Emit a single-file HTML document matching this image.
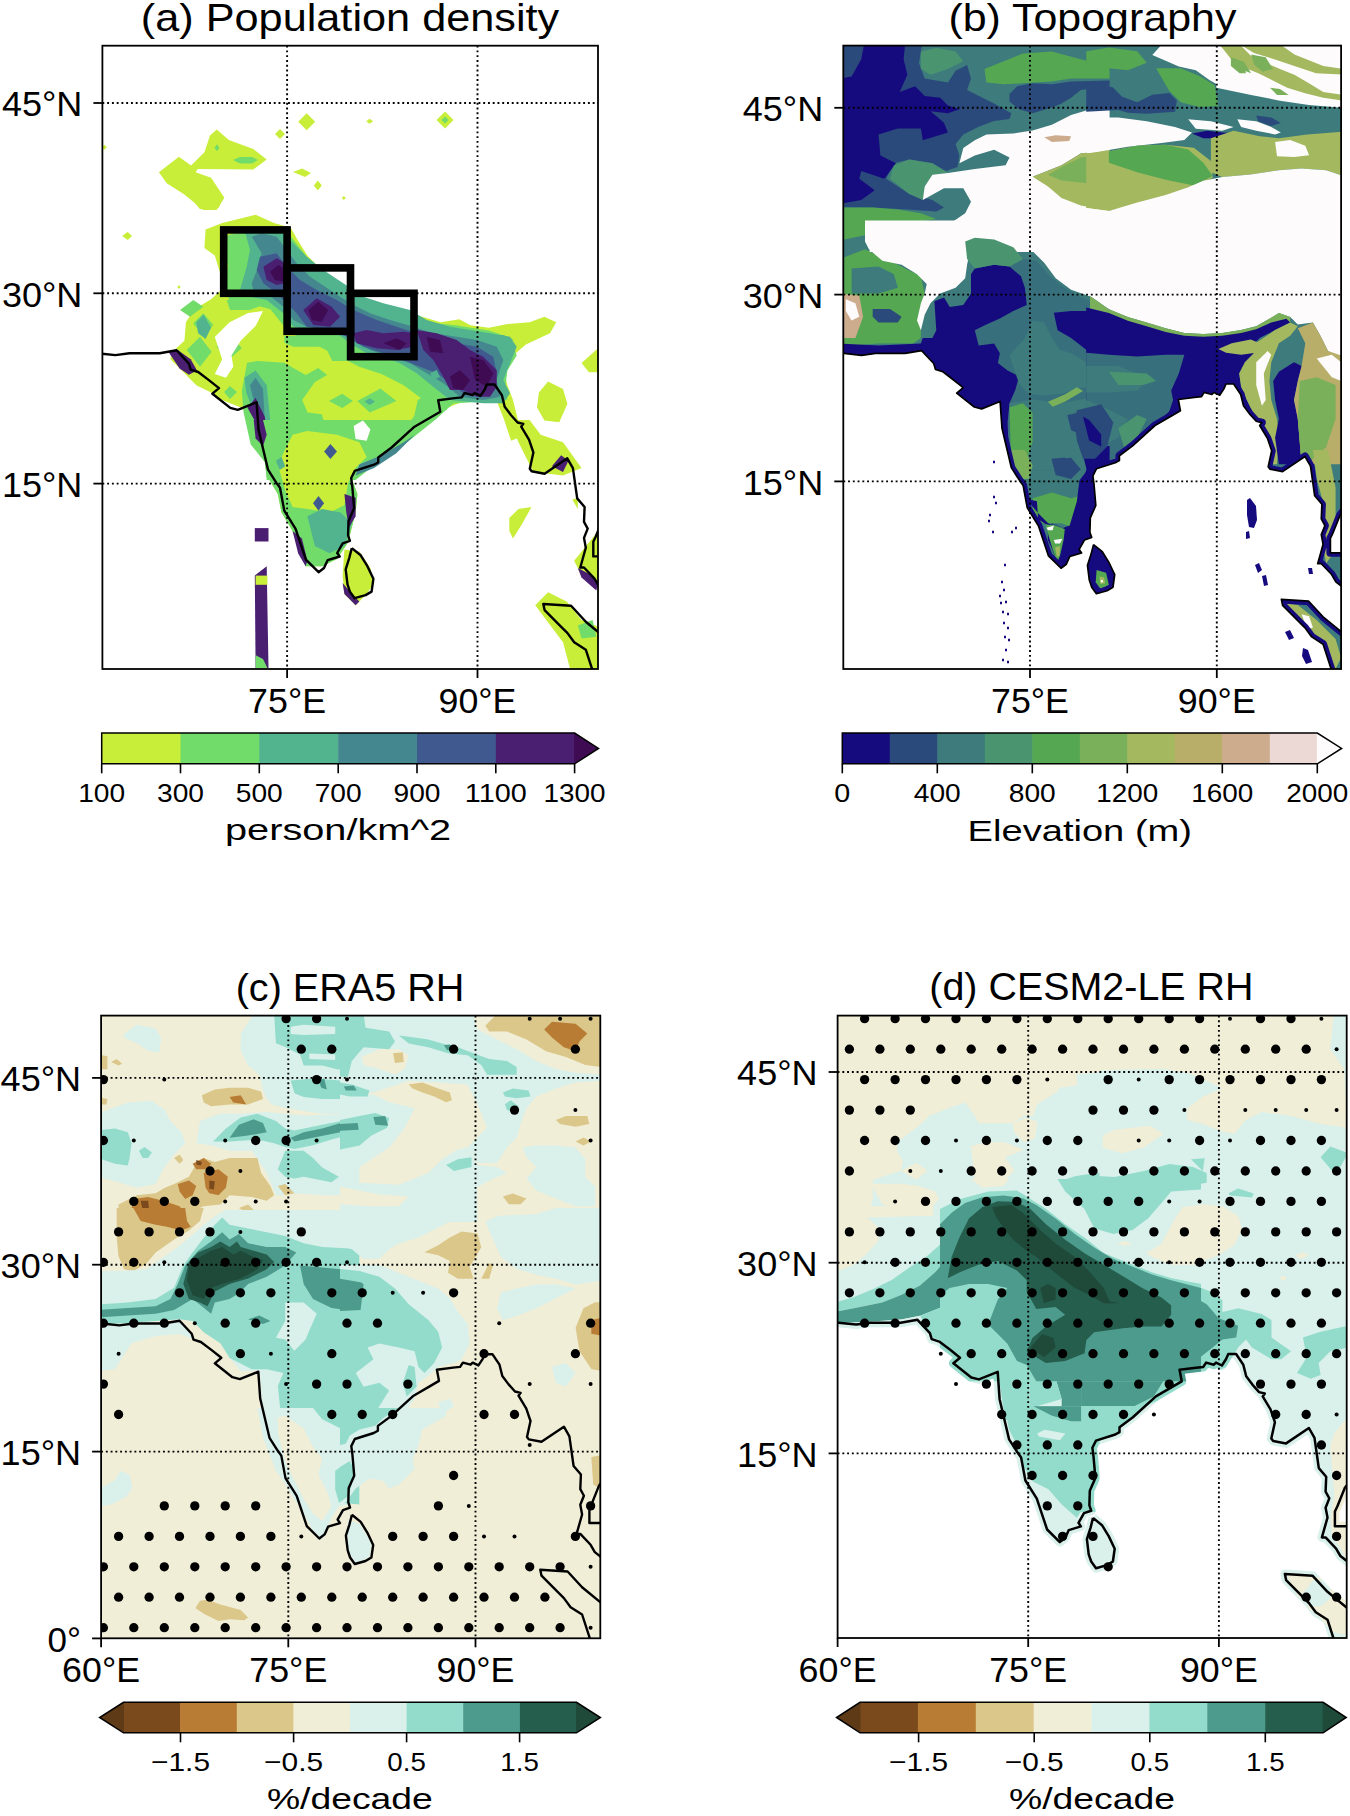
<!DOCTYPE html><html><head><meta charset="utf-8"><style>html,body{margin:0;padding:0;background:#fff;}svg{display:block}</style></head><body>
<svg width="1350" height="1816" viewBox="0 0 1350 1816">
<rect width="1350" height="1816" fill="#fff"/>
<defs>
<clipPath id="clipa"><rect x="102.4" y="45.7" width="495.6" height="623.3"/></clipPath>
<clipPath id="clipb"><rect x="843.3" y="45.6" width="497.79999999999995" height="623.4"/></clipPath>
<clipPath id="clipc"><rect x="101.1" y="1015.6" width="499.19999999999993" height="622.6999999999999"/></clipPath>
<clipPath id="clipd"><rect x="837.6" y="1015.6" width="509.1" height="622.4"/></clipPath>
<clipPath id="landa"><path d="M90.5 353.1 L97.6 353.2 L115.4 355.1 L129.5 353.2 L159.7 353.2 L176.6 350.3 L188.9 363.6 L190.7 369.6 L198.2 372 L209.5 380.6 L219 388.1 L212.4 393.7 L230.3 407.9 L237.8 409.8 L256.6 402.3 L258.5 429.6 L263.7 451.5 L268 469.6 L276.4 482.9 L280 487.8 L284.3 510.7 L295.6 528.8 L305.9 559.6 L318.6 572.2 L324 568 L327.6 560.2 L339.7 556.5 L337.2 553 L342.7 543.3 L349.9 540.8 L348.1 535.4 L348.5 520.9 L354.1 508.2 L352.3 486.5 L351.2 478.1 L354.7 470.9 L374 464.7 L378.2 462.4 L378.2 457.5 L391.6 447.5 L414.5 426.7 L431.7 416.8 L440.3 411.7 L438.2 400.3 L454.6 398.1 L461.8 397.4 L464.6 393 L472.5 395.2 L474.6 393 L480.4 395.9 L484.7 389.5 L486.8 384.5 L494.6 384.5 L501.9 395.2 L504.7 406.7 L511.1 415.2 L517.6 422.5 L523.3 423.9 L521.2 426.7 L529 439.7 L533.4 452.5 L529.8 468.8 L531.6 471.3 L544.6 473.7 L567.3 458.3 L572.9 468.2 L577.2 498.4 L584.6 507 L584 521.9 L587.7 528.6 L584 537.9 L585.8 547.8 L580.3 567.5 L584 567.5 L594.5 578.6 L598.8 586.1 L609.1 594.1 L609.1 556.4 L593.3 556.4 L593.3 541.7 L595.7 536.7 L603.1 518.1 L609.1 510.6 L617 -23.9 L84.1 -23.9 Z M351.8 548.1 L360.7 555.3 L367.4 566.2 L373.4 578.8 L371.6 591.6 L365.6 595.1 L354.7 598.2 L349.9 591.6 L347.5 584.3 L345.7 569.3 L349.3 557.8 L351.8 548.1 Z M595.9 680.7 L585.8 649.7 L574.2 642.2 L567.3 632.9 L561.2 626.8 L544.6 610.1 L543.3 604 L571.1 605.8 L585.8 621.8 L609.1 641 L617 699.4 L540.9 699.4 Z"/></clipPath>
<clipPath id="landb"><path d="M837.2 353.3 L844.1 353.4 L861.6 355.3 L875.4 353.4 L905.1 353.4 L921.6 350.6 L933.7 363.5 L935.5 369.4 L942.9 371.8 L953.9 380.2 L963.2 387.6 L956.7 393.1 L974.3 407 L981.7 408.9 L1000.1 401.5 L1002 428.3 L1007.1 449.8 L1011.3 467.6 L1019.6 480.6 L1023.1 485.4 L1027.3 507.9 L1038.4 525.7 L1048.5 555.9 L1061 568.2 L1066.3 564.2 L1069.8 556.5 L1081.6 552.9 L1079.2 549.4 L1084.6 539.9 L1091.7 537.5 L1089.9 532.2 L1090.3 517.9 L1095.8 505.5 L1094 484.2 L1092.9 475.9 L1096.4 468.8 L1115.3 462.8 L1119.4 460.5 L1119.4 455.7 L1132.6 445.9 L1155 425.5 L1171.9 415.7 L1180.4 410.7 L1178.3 399.5 L1194.4 397.4 L1201.4 396.7 L1204.2 392.4 L1211.9 394.5 L1214 392.4 L1219.7 395.2 L1223.9 388.9 L1226 384 L1233.7 384 L1240.7 394.5 L1243.5 405.8 L1249.8 414.2 L1256.2 421.3 L1261.8 422.7 L1259.7 425.5 L1267.4 438.2 L1271.7 450.8 L1268.2 466.8 L1270 469.2 L1282.6 471.6 L1305 456.5 L1310.5 466.2 L1314.7 495.8 L1321.9 504.3 L1321.3 518.9 L1324.9 525.5 L1321.3 534.6 L1323.1 544.3 L1317.7 563.7 L1321.3 563.7 L1331.6 574.5 L1335.8 581.8 L1346 589.7 L1346 552.8 L1330.4 552.8 L1330.4 538.3 L1332.8 533.4 L1340.1 515.2 L1346 507.8 L1353.8 -16.6 L830.8 -16.6 Z M1093.5 544.6 L1102.3 551.7 L1108.9 562.4 L1114.7 574.7 L1113 587.2 L1107.1 590.7 L1096.4 593.7 L1091.7 587.2 L1089.3 580.1 L1087.5 565.3 L1091.1 554.1 L1093.5 544.6 Z M1333 674.7 L1323.1 644.2 L1311.7 636.9 L1305 627.8 L1299 621.8 L1282.6 605.4 L1281.4 599.4 L1308.7 601.2 L1323.1 616.9 L1346 635.7 L1353.8 693 L1279 693 Z"/></clipPath>
<clipPath id="landd"><path d="M831.4 1322.6 L838.4 1322.7 L856.2 1324.6 L870.4 1322.7 L900.6 1322.7 L917.5 1319.8 L929.9 1333.1 L931.7 1339.1 L939.2 1341.6 L950.5 1350.1 L960 1357.7 L953.4 1363.3 L971.3 1377.5 L978.9 1379.4 L997.7 1371.9 L999.6 1399.2 L1004.8 1421.2 L1009.1 1439.4 L1017.6 1452.6 L1021.1 1457.5 L1025.4 1480.5 L1036.8 1498.6 L1047.1 1529.5 L1059.8 1542.1 L1065.2 1537.9 L1068.8 1530.1 L1080.9 1526.4 L1078.5 1522.8 L1084 1513.1 L1091.2 1510.7 L1089.4 1505.3 L1089.8 1490.7 L1095.4 1478 L1093.5 1456.3 L1092.4 1447.8 L1096 1440.6 L1115.3 1434.5 L1119.5 1432.1 L1119.5 1427.2 L1132.9 1417.2 L1155.9 1396.4 L1173.1 1386.4 L1181.7 1381.3 L1179.6 1369.8 L1196 1367.7 L1203.2 1367 L1206.1 1362.6 L1213.9 1364.7 L1216 1362.6 L1221.9 1365.5 L1226.1 1359 L1228.3 1354 L1236.1 1354 L1243.3 1364.7 L1246.2 1376.3 L1252.6 1384.8 L1259.1 1392.1 L1264.8 1393.5 L1262.7 1396.4 L1270.5 1409.3 L1274.9 1422.2 L1271.3 1438.5 L1273.2 1441 L1286.1 1443.4 L1308.9 1428 L1314.5 1437.9 L1318.8 1468.1 L1326.2 1476.8 L1325.6 1491.7 L1329.3 1498.4 L1325.6 1507.7 L1327.5 1517.6 L1321.9 1537.4 L1325.6 1537.4 L1336.1 1548.6 L1340.4 1556 L1350.8 1564.1 L1350.8 1526.3 L1334.9 1526.3 L1334.9 1511.5 L1337.3 1506.5 L1344.8 1487.9 L1350.8 1480.4 L1358.7 944.9 L824.9 944.9 Z M1093 1517.9 L1102 1525.2 L1108.7 1536.1 L1114.7 1548.8 L1112.9 1561.5 L1106.9 1565.1 L1096 1568.2 L1091.2 1561.5 L1088.7 1554.3 L1086.9 1539.2 L1090.6 1527.6 L1093 1517.9 Z M1337.5 1650.8 L1327.5 1619.7 L1315.8 1612.2 L1308.9 1603 L1302.8 1596.8 L1286.1 1580.1 L1284.9 1574 L1312.7 1575.8 L1327.5 1591.8 L1350.8 1611 L1358.7 1669.5 L1282.5 1669.5 Z"/></clipPath>
<mask id="maskd"><path d="M831.4 1322.6 L838.4 1322.7 L856.2 1324.6 L870.4 1322.7 L900.6 1322.7 L917.5 1319.8 L929.9 1333.1 L931.7 1339.1 L939.2 1341.6 L950.5 1350.1 L960 1357.7 L953.4 1363.3 L971.3 1377.5 L978.9 1379.4 L997.7 1371.9 L999.6 1399.2 L1004.8 1421.2 L1009.1 1439.4 L1017.6 1452.6 L1021.1 1457.5 L1025.4 1480.5 L1036.8 1498.6 L1047.1 1529.5 L1059.8 1542.1 L1065.2 1537.9 L1068.8 1530.1 L1080.9 1526.4 L1078.5 1522.8 L1084 1513.1 L1091.2 1510.7 L1089.4 1505.3 L1089.8 1490.7 L1095.4 1478 L1093.5 1456.3 L1092.4 1447.8 L1096 1440.6 L1115.3 1434.5 L1119.5 1432.1 L1119.5 1427.2 L1132.9 1417.2 L1155.9 1396.4 L1173.1 1386.4 L1181.7 1381.3 L1179.6 1369.8 L1196 1367.7 L1203.2 1367 L1206.1 1362.6 L1213.9 1364.7 L1216 1362.6 L1221.9 1365.5 L1226.1 1359 L1228.3 1354 L1236.1 1354 L1243.3 1364.7 L1246.2 1376.3 L1252.6 1384.8 L1259.1 1392.1 L1264.8 1393.5 L1262.7 1396.4 L1270.5 1409.3 L1274.9 1422.2 L1271.3 1438.5 L1273.2 1441 L1286.1 1443.4 L1308.9 1428 L1314.5 1437.9 L1318.8 1468.1 L1326.2 1476.8 L1325.6 1491.7 L1329.3 1498.4 L1325.6 1507.7 L1327.5 1517.6 L1321.9 1537.4 L1325.6 1537.4 L1336.1 1548.6 L1340.4 1556 L1350.8 1564.1 L1350.8 1526.3 L1334.9 1526.3 L1334.9 1511.5 L1337.3 1506.5 L1344.8 1487.9 L1350.8 1480.4 L1358.7 944.9 L824.9 944.9 Z M1093 1517.9 L1102 1525.2 L1108.7 1536.1 L1114.7 1548.8 L1112.9 1561.5 L1106.9 1565.1 L1096 1568.2 L1091.2 1561.5 L1088.7 1554.3 L1086.9 1539.2 L1090.6 1527.6 L1093 1517.9 Z M1337.5 1650.8 L1327.5 1619.7 L1315.8 1612.2 L1308.9 1603 L1302.8 1596.8 L1286.1 1580.1 L1284.9 1574 L1312.7 1575.8 L1327.5 1591.8 L1350.8 1611 L1358.7 1669.5 L1282.5 1669.5 Z" fill="#fff"/><path d="M831.4 1322.6 L838.4 1322.7 L856.2 1324.6 L870.4 1322.7 L900.6 1322.7 L917.5 1319.8 L929.9 1333.1 L931.7 1339.1 L939.2 1341.6 L950.5 1350.1 L960 1357.7 L953.4 1363.3 L971.3 1377.5 L978.9 1379.4 L997.7 1371.9 L999.6 1399.2 L1004.8 1421.2 L1009.1 1439.4 L1017.6 1452.6 L1021.1 1457.5 L1025.4 1480.5 L1036.8 1498.6 L1047.1 1529.5 L1059.8 1542.1 L1065.2 1537.9 L1068.8 1530.1 L1080.9 1526.4 L1078.5 1522.8 L1084 1513.1 L1091.2 1510.7 L1089.4 1505.3 L1089.8 1490.7 L1095.4 1478 L1093.5 1456.3 L1092.4 1447.8 L1096 1440.6 L1115.3 1434.5 L1119.5 1432.1 L1119.5 1427.2 L1132.9 1417.2 L1155.9 1396.4 L1173.1 1386.4 L1181.7 1381.3 L1179.6 1369.8 L1196 1367.7 L1203.2 1367 L1206.1 1362.6 L1213.9 1364.7 L1216 1362.6 L1221.9 1365.5 L1226.1 1359 L1228.3 1354 L1236.1 1354 L1243.3 1364.7 L1246.2 1376.3 L1252.6 1384.8 L1259.1 1392.1 L1264.8 1393.5 L1262.7 1396.4 L1270.5 1409.3 L1274.9 1422.2 L1271.3 1438.5 L1273.2 1441 L1286.1 1443.4 L1308.9 1428 L1314.5 1437.9 L1318.8 1468.1 L1326.2 1476.8 L1325.6 1491.7 L1329.3 1498.4 L1325.6 1507.7 L1327.5 1517.6 L1321.9 1537.4 L1325.6 1537.4 L1336.1 1548.6 L1340.4 1556 L1350.8 1564.1 M1350.8 1480.4 L1344.8 1487.9 L1337.3 1506.5 L1334.9 1511.5 L1334.9 1526.3 L1350.8 1526.3 M1093 1517.9 L1102 1525.2 L1108.7 1536.1 L1114.7 1548.8 L1112.9 1561.5 L1106.9 1565.1 L1096 1568.2 L1091.2 1561.5 L1088.7 1554.3 L1086.9 1539.2 L1090.6 1527.6 L1093 1517.9 M1337.5 1650.8 L1327.5 1619.7 L1315.8 1612.2 L1308.9 1603 L1302.8 1596.8 L1286.1 1580.1 L1284.9 1574 L1312.7 1575.8 L1327.5 1591.8 L1350.8 1611" fill="none" stroke="#fff" stroke-width="9" stroke-linejoin="round"/></mask>
</defs>
<g clip-path="url(#clipa)">
<path d="M205.6 229.6 L222.2 223 L255.6 214.8 L274.1 223 L290.7 227.8 L298.1 240.7 L307.4 255.6 L322.2 270.4 L340.7 285.2 L359.3 295.6 L381.5 305.6 L403.7 313 L422.2 316.7 L440.7 322.2 L459.3 319.3 L470.4 325.2 L488.9 327.8 L507.4 324.1 L529.6 322.2 L544.4 316.7 L556.3 322.2 L550 333.3 L525.9 344.4 L513 355.6 L503.7 370.4 L507.4 385.2 L513 400 L518.5 422.2 L520.4 437 L511.1 440.7 L503.7 418.5 L496.3 400 L485.2 396.3 L466.7 400 L448.1 407.4 L433.3 418.5 L414.8 427.4 L396.3 442.2 L381.5 457 L359.3 468.1 L351.9 479.3 L357.4 494.1 L355.6 512.6 L348.1 542.2 L337 558.9 L322.2 566.3 L305.6 566.3 L300 549.6 L292.6 531.1 L281.5 512.6 L277.8 494.1 L266.7 475.6 L263 445.9 L254.8 434.8 L253.7 420 L240.7 407.4 L222.2 400 L211.1 392.6 L196.3 385.2 L185.2 374.1 L170.4 359.3 L172.2 351.9 L184.4 340.7 L185.9 322.2 L194.4 309.3 L211.1 299.3 L222.2 288.9 L220.4 274.1 L214.8 255.6 L204.4 248.1 Z" fill="#c8ee3a"/>
<path d="M344.4 549.6 L359.3 551.5 L370.4 568.1 L374.1 583 L366.7 594.1 L355.6 605.2 L344.4 594.1 L342.6 575.6 Z" fill="#c8ee3a"/>
<path d="M158.9 172.2 L178.9 156.7 L191.1 165.6 L204.4 152.2 L210 135.6 L216.7 129.6 L228.9 140 L253.3 148.9 L266.7 159.6 L253.3 169.6 L197.8 168.9 L195.6 172.2 L211.1 177.8 L224.4 197.8 L216.7 210 L203.3 210 L184.4 194.4 L166.7 183.3 Z" fill="#c8ee3a"/>
<path d="M214.5 147.8 L217 144.3 L219.5 147.8 L217 151.3 Z" fill="#72dc6a"/>
<path d="M233 160 L240 157 L252 157 L258 160 L252 163.5 L240 163.5 Z" fill="#72dc6a"/>
<path d="M275 134 L280 129 L285 134 L280 139 Z" fill="#c8ee3a"/>
<path d="M298.2 121.8 L306.7 113.3 L315.2 121.8 L306.7 130.3 Z" fill="#c8ee3a"/>
<path d="M436.5 120 L445 111.5 L453.5 120 L445 128.5 Z" fill="#c8ee3a"/>
<path d="M441.5 120 L445 116.5 L448.5 120 L445 123.5 Z" fill="#72dc6a"/>
<path d="M366.1 121.3 L369.6 118.8 L373.1 121.3 L369.6 123.8 Z" fill="#c8ee3a"/>
<path d="M293 172 L302 168.5 L311 173 L305 177 Z" fill="#c8ee3a"/>
<path d="M313.8 185.6 L317.8 180.6 L321.8 185.6 L317.8 190.6 Z" fill="#c8ee3a"/>
<path d="M341.8 198 L343.8 196 L345.8 198 L343.8 200 Z" fill="#c8ee3a"/>
<path d="M123.8 236 L127.8 232 L131.8 236 L127.8 240 Z" fill="#c8ee3a"/>
<path d="M177.1 287 L178.9 285.2 L180.7 287 L178.9 288.8 Z" fill="#c8ee3a"/>
<path d="M101.9 147.3 L104.4 144.8 L106.9 147.3 L104.4 149.8 Z" fill="#c8ee3a"/>
<path d="M192.6 200 L222.2 200 L218.5 208.1 L200 209.3 Z" fill="#c8ee3a"/>
<path d="M122.2 235.9 L127 232.2 L131.9 235.9 L127 239.6 Z" fill="#c8ee3a"/>
<path d="M538.9 392.6 L548.1 381.5 L563 388.9 L567.4 403.7 L559.3 422.2 L544.4 420.4 L537 407.4 Z" fill="#c8ee3a"/>
<path d="M581.5 363 L598.1 348.1 L600 372.2 L588.9 372.2 Z" fill="#c8ee3a"/>
<path d="M509.3 420 L529.6 420 L540.7 434.8 L563 442.2 L581.5 468.1 L563 475.6 L533.3 471.9 L518.5 442.2 Z" fill="#c8ee3a"/>
<path d="M509.3 518.1 L518.5 508.9 L531.5 507 L522.2 523.7 L513 538.5 L509.3 531.1 Z" fill="#c8ee3a"/>
<path d="M572.2 499.6 L577.8 497.8 L577.8 508.9 Z" fill="#c8ee3a"/>
<path d="M574.1 560.7 L598.1 531.1 L600 590.4 L581.5 575.6 Z" fill="#c8ee3a"/>
<path d="M535.2 605.2 L548.1 592.2 L566.7 601.5 L581.5 620 L600 627.4 L600 670 L570.4 670 L563 642.2 Z" fill="#c8ee3a"/>
<path d="M577.8 625.6 L592.6 620 L596.3 636.7 L581.5 638.5 Z" fill="#72dc6a"/>
<path d="M551.9 466.3 L561.1 455.2 L568.5 460.7 L563 471.9 Z" fill="#4a1f72"/>
<path d="M577.8 568.1 L588.9 573.7 L598.1 583 L596.3 590.4 L581.5 577.4 Z" fill="#4a1f72"/>
<path d="M227.8 235.2 L255.6 227.8 L285.2 229.6 L300 248.1 L314.8 266.7 L337 283.3 L359.3 297 L385.2 308.1 L411.1 315.6 L433.3 323 L455.6 325.2 L488.9 330.4 L511.1 337.8 L516.7 355.6 L507.4 370.4 L505.6 385.2 L507.4 400 L492.6 392.6 L470.4 396.3 L451.9 401.9 L433.3 407.4 L418.5 396.3 L403.7 385.2 L381.5 374.1 L359.3 366.7 L337 355.6 L318.5 346.3 L300 338.9 L285.2 327.8 L270.4 309.3 L248.1 303 L229.6 300 L224.1 288.9 L227.8 266.7 L224.1 244.4 Z" fill="#72dc6a"/>
<path d="M247.1 362.7 L257.8 360.9 L284.4 362.7 L293.3 368 L305.8 375.1 L318.2 368 L327.1 375.1 L314.7 382.2 L302.2 400 L307.6 412.4 L321.8 414.2 L325.3 426.7 L339.6 433.8 L350.2 444.4 L353.8 456.9 L346.7 469.3 L328.9 462.2 L318.2 462.2 L311.1 451.6 L298.7 440.9 L289.8 435.6 L288 444.4 L293.3 455.1 L298.7 469.3 L293.3 480 L266.7 480 L264.9 462.2 L250.7 444.4 L243.6 412.4 L241.8 391.1 Z" fill="#72dc6a"/>
<path d="M417.8 400 L426.7 394.7 L439.1 394.7 L480 391.1 L480 401.8 L453.3 403.6 L435.6 419.6 L417.8 433.8 L400 448 L382.2 458.7 L364.4 472.9 L355.6 480 L350.2 480 L353.8 462.2 L368 455.1 L387.6 444.4 L403.6 430.2 L414.2 416 Z" fill="#72dc6a"/>
<path d="M284.4 336 L346.7 336 L346.7 360.9 L332.4 360.9 L325.3 346.7 L293.3 346.7 L284.4 343.1 Z" fill="#72dc6a"/>
<path d="M328.9 400.9 L342.2 393.8 L352.9 400.9 L342.2 408 Z" fill="#72dc6a"/>
<path d="M357.3 400.9 L380.4 388.4 L396.4 400.9 L369.8 412.4 Z" fill="#72dc6a"/>
<path d="M364.4 401.4 L369.8 398.2 L375.1 401.4 L369.8 405 Z" fill="#52b38f"/>
<path d="M321.8 451.6 L330.7 442.7 L341.3 451.6 L330.7 461.3 Z" fill="#52b38f"/>
<path d="M327.1 451.6 L330.7 448 L334.2 451.6 L330.7 455.1 Z" fill="#405a90"/>
<path d="M193.3 323.3 L203.3 313.3 L213.3 325 L203.3 336.7 Z" fill="#72dc6a"/>
<path d="M186.7 350 L200 336.7 L211.7 351.7 L200 366.7 Z" fill="#72dc6a"/>
<path d="M180 310 L193.3 300 L203.3 306.7 L190 316.7 Z" fill="#72dc6a"/>
<path d="M216.7 346.7 L230 333.3 L241.7 348.3 L228.3 360 Z" fill="#72dc6a"/>
<path d="M226.7 300 L250 296.7 L266.7 303.3 L250 310 L230 310 Z" fill="#72dc6a"/>
<path d="M224 392 L230 386 L237 392 L230 399 Z" fill="#72dc6a"/>
<path d="M224 343 L232 333 L238 340 L232 350 Z" fill="#72dc6a"/>
<path d="M196.3 322.2 L203.7 314.8 L211.1 327.8 L205.6 338.9 L198.1 333.3 Z" fill="#52b38f"/>
<path d="M244.4 377.8 L255.6 370.4 L266.7 385.2 L270.4 422.2 L263 420 L251.9 407.4 L246.3 392.6 Z" fill="#52b38f"/>
<path d="M250 385.2 L255.6 377.8 L263 388.9 L264.8 420 L255.6 407.4 Z" fill="#45878f"/>
<path d="M168.5 351.9 L177.8 350 L190.7 359.3 L197 370.4 L188.9 374.8 L179.6 368.5 Z" fill="#4a1f72"/>
<path d="M247.4 407.4 L255.6 398.1 L264.8 416.7 L267.4 437 L263 422.2 L255.6 422.2 Z" fill="#4a1f72"/>
<path d="M255.6 420 L422.2 420 L396.3 442.2 L381.5 457 L359.3 468.1 L351.9 479.3 L357.4 494.1 L355.6 512.6 L348.1 542.2 L337 558.9 L322.2 566.3 L305.6 566.3 L300 549.6 L292.6 531.1 L281.5 512.6 L277.8 494.1 L266.7 475.6 L263 445.9 Z" fill="#72dc6a"/>
<path d="M292.6 434.8 L307.4 431.1 L337 434.8 L359.3 442.2 L366.7 457 L355.6 468.1 L348.1 483 L344.4 505.2 L329.6 512.6 L307.4 508.9 L292.6 507 L285.2 490.4 L277.8 464.4 Z" fill="#c8ee3a"/>
<path d="M307.4 516.3 L322.2 508.9 L340.7 512.6 L351.9 523.7 L344.4 545.9 L329.6 553.3 L314.8 545.9 Z" fill="#52b38f"/>
<path d="M313 503.3 L318.5 495.9 L324.1 503.3 L318.5 510.7 Z" fill="#405a90"/>
<path d="M324.1 451.5 L330.4 444.1 L337 451.5 L330.4 458.9 Z" fill="#405a90"/>
<path d="M275.9 460.7 L281.5 457 L285.2 466.3 L279.6 470 Z" fill="#52b38f"/>
<path d="M253.7 420 L263 420 L266.7 434.8 L263 445.9 L255.6 438.5 Z" fill="#4a1f72"/>
<path d="M292.6 531.1 L301.9 538.5 L307.4 560.7 L305.6 566.3 L298.1 553.3 Z" fill="#4a1f72"/>
<path d="M344.4 494.1 L355.6 497.8 L355.6 516.3 L348.9 527.4 L346.3 512.6 Z" fill="#4a1f72"/>
<path d="M342.6 583 L351.9 594.1 L359.3 601.5 L355.6 605.2 L344.4 594.1 Z" fill="#4a1f72"/>
<path d="M359.3 464.4 L381.5 455.2 L403.7 442.2 L414.8 434.8 L396.3 453.3 L374.1 468.1 L355.6 475.6 Z" fill="#45878f"/>
<path d="M254.8 528.1 L268.5 528.1 L268.5 541.5 L254.8 541.5 Z" fill="#4a1f72"/>
<path d="M254.8 575.6 L266.7 566.3 L268.5 668.1 L255.6 668.1 Z" fill="#4a1f72"/>
<path d="M255.6 575.6 L267.4 575.6 L267.4 584.8 L255.6 584.8 Z" fill="#c8ee3a"/>
<path d="M255.6 655.2 L263 658.9 L267.4 668.1 L255.6 668.1 Z" fill="#72dc6a"/>
<path d="M245 231.7 L256.7 228.3 L276.7 228.3 L290 240 L306.7 256.7 L323.3 270 L343.3 283.3 L363.3 296.7 L383.3 303.3 L410 310 L426.7 320 L450 326.7 L470 330 L490 333.3 L510 336.7 L516.7 346.7 L510 363.3 L503.3 380 L510 393.3 L503.3 403.3 L483.3 403.3 L450 400 L433.3 386.7 L416.7 373.3 L400 363.3 L383.3 356.7 L366.7 353.3 L350 343.3 L336.7 333.3 L310 330 L293.3 326.7 L283.3 313.3 L266.7 300 L250 296.7 L240 290 L246.7 266.7 L250 250 Z" fill="#52b38f"/>
<path d="M251.7 236.7 L261.7 233.3 L276.7 236.7 L286.7 250 L296.7 263.3 L310 276.7 L330 290 L350 303.3 L370 313.3 L390 320 L413.3 326.7 L433.3 333.3 L456.7 336.7 L476.7 340 L496.7 346.7 L503.3 360 L496.7 380 L500 396.7 L483.3 400 L460 396.7 L443.3 383.3 L426.7 373.3 L410 363.3 L390 356.7 L370 350 L353.3 340 L336.7 330 L306.7 326.7 L293.3 320 L283.3 306.7 L266.7 293.3 L253.3 290 L251.7 283.3 L258.3 266.7 L261.7 253.3 Z" fill="#45878f"/>
<path d="M260 256.7 L276.7 253.3 L286.7 266.7 L300 280 L316.7 290 L336.7 300 L353.3 310 L376.7 320 L396.7 326.7 L416.7 333.3 L436.7 340 L456.7 343.3 L476.7 346.7 L493.3 356.7 L496.7 373.3 L493.3 390 L480 396.7 L463.3 393.3 L450 383.3 L436.7 373.3 L420 366.7 L403.3 360 L383.3 353.3 L363.3 346.7 L346.7 336.7 L330 330 L306.7 326.7 L296.7 313.3 L276.7 293.3 L263.3 283.3 L256.7 270 Z" fill="#405a90"/>
<path d="M263.3 266.7 L276.7 258.3 L285 263.3 L285 283.3 L276.7 285 L266.7 280 Z" fill="#4a1f72"/>
<path d="M303.3 310 L316.7 298.3 L331.7 306.7 L340 316.7 L330 326.7 L313.3 325 Z" fill="#4a1f72"/>
<path d="M353.3 333.3 L366.7 330 L383.3 333.3 L403.3 331.7 L416.7 333.3 L413.3 346.7 L396.7 350 L376.7 348.3 L356.7 343.3 Z" fill="#4a1f72"/>
<path d="M416.7 330 L436.7 333.3 L456.7 340 L470 350 L483.3 356.7 L496.7 370 L496.7 386.7 L490 396.7 L476.7 396.7 L463.3 390 L450 390 L443.3 376.7 L433.3 360 L423.3 350 Z" fill="#4a1f72"/>
<path d="M270 271.7 L278.3 265 L283.3 268.3 L283.3 281.7 L275 280 Z" fill="#3f0c54"/>
<path d="M308.3 310 L318.3 301.7 L328.3 310 L321.7 321.7 L311.7 320 Z" fill="#3f0c54"/>
<path d="M383.3 343.3 L396.7 338.3 L406.7 343.3 L400 350 Z" fill="#3f0c54"/>
<path d="M426.7 336.7 L440 340 L443.3 353.3 L430 351.7 Z" fill="#3f0c54"/>
<path d="M450 376.7 L460 370 L470 380 L463.3 390 L453.3 388.3 Z" fill="#3f0c54"/>
<path d="M470 356.7 L483.3 360 L493.3 373.3 L486.7 386.7 L475 380 Z" fill="#3f0c54"/>
<path d="M486.7 336.7 L503.3 335 L513.3 340 L503.3 343.3 Z" fill="#52b38f"/>
<path d="M430 373.3 L436.7 370 L440 376.7 L433.3 380 Z" fill="#52b38f"/>
<path d="M214.8 337 L229.6 322.2 L248.1 313 L263 311.1 L255.6 325.9 L240.7 340.7 L231.5 355.6 L233.3 366.7 L225.9 377.8 L214.8 374.1 L222.2 359.3 L218.5 348.1 Z" fill="#ffffff"/>
<path d="M353.7 425.9 L363 420.4 L370.4 429.6 L366.7 440.7 L355.6 438.9 Z" fill="#ffffff"/>
</g>
<g clip-path="url(#clipb)">
<g clip-path="url(#landb)">
<rect x="843" y="45" width="500" height="625" fill="#3d7b7c"/>
<path d="M840 40 L922.8 40 L919 63.1 L924.7 78.5 L947.9 82.4 L955.6 70.8 L967.1 65 L971 78.5 L967.1 90.1 L982.5 97.8 L994.1 103.6 L1011.4 113.2 L1009.5 119 L994.1 120.9 L978.7 126.7 L963.3 134.4 L955.6 144 L959.4 155.6 L957.5 167.1 L945.9 171 L932.4 163.3 L909.3 159.4 L893.9 163.3 L886.2 178.7 L909.3 194.1 L932.4 199.9 L944 207.6 L936.3 211.4 L907.4 209.5 L872.7 207.6 L840 207.6 Z" fill="#2b4a7c"/>
<path d="M840 78.5 L851.6 76.6 L861.2 59.3 L865 40 L905.5 40 L903.6 59.3 L907.4 74.7 L899.7 92 L915.1 86.2 L924.7 95.9 L940.2 97.8 L947.9 105.5 L959.4 109.3 L947.9 113.2 L930.5 111.3 L944 122.8 L947.9 132.4 L922.8 140.2 L920.9 128.6 L897.8 128.6 L878.5 134.4 L880.4 155.6 L895.9 163.3 L884.3 178.7 L861.2 171 L859.3 178.7 L874.7 190.2 L861.2 199.9 L840 203.7 Z" fill="#160a7f"/>
<path d="M1009.5 93.9 L1017.2 86.2 L1032.6 83.3 L1051.9 84.3 L1071.1 81.4 L1109.6 80.4 L1109.6 86.2 L1080.8 90.1 L1071.1 97.8 L1061.5 103.6 L1051.9 107.4 L1032.6 113.2 L1019.1 109.3 L1009.5 101.6 Z" fill="#2b4a7c"/>
<path d="M984.5 68.9 L1003.7 61.2 L1023 53.5 L1051.9 51.6 L1080.8 59.3 L1109.6 67 L1109.6 78.5 L1071.1 78.5 L1051.9 81.4 L1023 83.3 L1003.7 84.3 L986.4 82.4 Z" fill="#55a752"/>
<path d="M920.9 51.6 L936.3 47.7 L955.6 51.6 L963.3 61.2 L947.9 68.9 L930.5 74.7 L920.9 68.9 Z" fill="#4a9470"/>
<path d="M840 207.6 L872.7 207.6 L897.8 209.5 L920.9 213.3 L936.3 219.1 L897.8 224.9 L878.5 232.6 L840 240.3 Z" fill="#55a752"/>
<path d="M909.3 159.4 L932.4 163.3 L947.9 172.9 L932.4 174.8 L924.7 186.4 L922.8 199.9 L909.3 194.1 L890.1 178.7 L893.9 165.2 Z" fill="#4a9470"/>
<path d="M986.4 134.4 L1013.3 133.4 L1032.6 130.5 L1051.9 124.7 L1071.1 115.1 L1109.6 103.6 L1109.6 149.8 L1080.8 153.6 L1061.5 165.2 L1042.2 172.9 L1032.6 176.7 L1109.6 174.8 L1109.6 251.9 L868.9 251.9 L878.5 232.6 L897.8 224.9 L926.7 221 L947.9 224.9 L965.2 213.3 L971 201.8 L963.3 188.3 L944 188.3 L922.8 199.9 L924.7 186.4 L932.4 174.8 L947.9 172.9 L974.8 169 L1005.6 165.2 L1009.5 157.5 L994.1 149.8 L974.8 155.6 L959.4 163.3 L963.3 147.9 L974.8 140.2 Z" fill="#fdfbfb"/>
<path d="M1032.6 176.7 L1042.2 172.9 L1061.5 165.2 L1080.8 153.6 L1109.6 149.8 L1109.6 210.5 L1080.8 205.6 L1061.5 197.9 L1048 186.4 Z" fill="#a4b85f"/>
<path d="M1048 174.8 L1061.5 167.1 L1080.8 157.5 L1109.6 153.6 L1109.6 186.4 L1080.8 182.5 L1061.5 180.6 Z" fill="#7bb05a"/>
<path d="M1044.2 137.3 L1055.7 135.3 L1071.1 136.3 L1069.2 141.1 L1051.9 142.1 Z" fill="#cdab8d"/>
<path d="M1086.2 81.6 L1112.7 87.2 L1122.1 96.7 L1137.2 102.3 L1152.3 94.8 L1169.3 92.9 L1176.9 100.4 L1175 111.8 L1146.7 113.7 L1127.8 112.7 L1118.3 109.9 L1086.2 111.8 Z" fill="#2b4a7c"/>
<path d="M1156.1 68.3 L1180.7 68.3 L1199.6 75.9 L1214.7 85.3 L1218.4 106.1 L1203.3 108 L1180.7 102.3 L1169.3 91 Z" fill="#55a752"/>
<path d="M1086.2 51.3 L1108.9 47.6 L1137.2 51.3 L1146.7 62.7 L1127.8 70.2 L1108.9 68.3 L1086.2 74 Z" fill="#55a752"/>
<path d="M1176.9 108 L1222.2 106.1 L1260 111.8 L1288.3 119.3 L1278.9 128.8 L1241.1 123.1 L1203.3 121.2 L1180.7 119.3 Z" fill="#3d7b7c"/>
<path d="M1256.2 115.6 L1271.3 117.4 L1280.8 123.1 L1271.3 125.9 L1258.1 121.2 Z" fill="#2b4a7c"/>
<path d="M1192 133.5 L1207.1 130.7 L1222.2 132.6 L1241.1 133.5 L1254.3 137.3 L1244.9 140.1 L1222.2 138.2 L1203.3 138.2 Z" fill="#160a7f"/>
<path d="M1152.3 55.1 L1169.3 36.2 L1218.4 36.2 L1218.4 85.3 L1209 79.7 L1195.8 70.2 L1178.8 66.4 L1165.6 60.8 Z" fill="#fdfbfb"/>
<path d="M1090 117.4 L1118.3 117.4 L1146.7 121.2 L1175 126.9 L1192 132.6 L1184.4 140.1 L1161.8 142.9 L1127.8 146.7 L1090 153.3 L1086.2 153.3 L1086.2 117.4 Z" fill="#fdfbfb"/>
<path d="M1188.2 119.3 L1210.9 121.2 L1233.6 126.9 L1222.2 130.7 L1195.8 128.8 Z" fill="#fdfbfb"/>
<path d="M1237.3 119.3 L1256.2 121.2 L1271.3 126.9 L1280.8 132.6 L1275.1 134.4 L1256.2 130.7 L1241.1 126.9 Z" fill="#fdfbfb"/>
<path d="M1086.2 153.3 L1108.9 151.4 L1137.2 145.8 L1165.6 144.8 L1193.9 147.7 L1210.9 160.9 L1212.8 177.9 L1193.9 185.4 L1169.3 194.9 L1137.2 204.3 L1108.9 210.9 L1086.2 208.1 Z" fill="#a4b85f"/>
<path d="M1108.9 151.4 L1137.2 145.8 L1165.6 144.8 L1188.2 149.6 L1203.3 162.8 L1212.8 176 L1193.9 185.4 L1165.6 179.8 L1137.2 172.2 L1108.9 162.8 Z" fill="#55a752"/>
<path d="M1210.9 138.2 L1233.6 130.7 L1260 136.3 L1278.9 138.2 L1307.2 134.4 L1354.5 130.7 L1354.5 179.8 L1326.1 170.3 L1301.6 168.4 L1278.9 170.3 L1250.6 174.5 L1222.2 176.9 L1210.9 172.2 Z" fill="#a4b85f"/>
<path d="M1275.1 142 L1290.2 140.1 L1305.3 145.8 L1309.1 155.2 L1294 157.1 L1277 156.2 Z" fill="#fdfbfb"/>
<path d="M1086.2 208.1 L1108.9 210.9 L1137.2 202.4 L1165.6 194.9 L1188.2 187.3 L1203.3 180.7 L1222.2 176.9 L1250.6 174.5 L1278.9 170.3 L1301.6 168.4 L1326.1 170.3 L1354.5 179.8 L1354.5 247.8 L1086.2 247.8 Z" fill="#fdfbfb"/>
<path d="M840 258.9 L865 249.3 L897.8 264.7 L920.9 276.2 L924.7 293.6 L920.9 322.4 L920.9 337.9 L913.2 343.6 L878.5 343.6 L851.6 345.6 L840 345.6 Z" fill="#55a752"/>
<path d="M851.6 268.5 L878.5 266.6 L893.9 274.3 L897.8 287.8 L878.5 293.6 L851.6 293.6 Z" fill="#3d7b7c"/>
<path d="M872.7 309 L890.1 309 L901.6 316.7 L897.8 322.4 L878.5 322.4 L872.7 316.7 Z" fill="#2b4a7c"/>
<path d="M840 293.6 L859.3 295.5 L863.1 316.7 L855.4 337.9 L840 337.9 Z" fill="#cdab8d"/>
<path d="M845.8 299.3 L855.4 303.2 L859.3 316.7 L851.6 320.5 L845.8 310.9 Z" fill="#fdfbfb"/>
<path d="M865 220.4 L955.6 220.4 L963.3 237.7 L971 245.4 L967.1 264.7 L965.2 278.2 L955.6 287.8 L940.2 293.6 L930.5 303.2 L924.7 314.7 L920.9 330.2 L917 320.5 L920.9 303.2 L924.7 293.6 L926.7 283.9 L917 274.3 L901.6 264.7 L882.4 260.8 L868.9 249.3 L865 241.6 Z" fill="#fdfbfb"/>
<path d="M840 343.6 L878.5 345.6 L920.9 343.6 L922.8 357.1 L840 357.1 Z" fill="#160a7f"/>
<path d="M974.8 330.2 L986.4 324.4 L999.9 318.6 L1013.3 310.9 L1026.8 305.1 L1024.9 287.8 L1021 276.2 L1009.5 266.6 L1023 258.9 L1036.5 260.8 L1048 274.3 L1061.5 285.9 L1080.8 297.4 L1109.6 307 L1109.6 470.8 L1009.5 470.8 L1007.6 422.6 L1009.5 403.3 L1015.3 389.9 L1019.1 376.4 L1007.6 370.6 L997.9 362.9 L999.9 353.3 L994.1 343.6 L978.7 345.6 Z" fill="#37707c"/>
<path d="M920.9 343.6 L922.8 337.9 L932.4 337.9 L936.3 330.2 L934.4 301.3 L944 297.4 L949.8 307 L963.3 305.1 L971 293.6 L971 274.3 L974.8 268.5 L994.1 264.7 L1009.5 266.6 L1021 276.2 L1024.9 287.8 L1026.8 305.1 L1013.3 310.9 L999.9 318.6 L986.4 324.4 L974.8 330.2 L978.7 345.6 L994.1 343.6 L999.9 353.3 L997.9 362.9 L1007.6 370.6 L1019.1 376.4 L1015.3 389.9 L1009.5 403.3 L1007.6 422.6 L1009.5 470.8 L990.2 470.8 L990.2 414.9 L955.6 399.5 L926.7 376.4 L913.2 353.3 Z" fill="#160a7f"/>
<path d="M965.2 241.6 L974.8 237.7 L994.1 239.6 L1013.3 247.3 L1023 258.9 L1009.5 266.6 L994.1 264.7 L974.8 268.5 L967.1 258.9 Z" fill="#4a9470"/>
<path d="M1053.8 312.8 L1071.1 310.9 L1086.5 310.9 L1109.6 307 L1109.6 357.1 L1090.4 353.3 L1080.8 345.6 L1071.1 337.9 L1057.6 330.2 Z" fill="#160a7f"/>
<path d="M1009.5 355.2 L1024.9 337.9 L1032.6 320.5 L1044.2 322.4 L1051.9 337.9 L1059.6 349.4 L1071.1 353.3 L1090.4 364.8 L1109.6 368.7 L1109.6 384.1 L1080.8 387.9 L1061.5 393.7 L1042.2 395.6 L1028.8 393.7 L1019.1 384.1 Z" fill="#3d7b7c"/>
<path d="M1009.5 403.3 L1032.6 399.5 L1061.5 403.3 L1080.8 399.5 L1109.6 393.7 L1109.6 470.8 L1009.5 470.8 Z" fill="#3d7b7c"/>
<path d="M1009.5 407.2 L1023 403.3 L1032.6 413 L1032.6 441.9 L1023 470.8 L1011.4 470.8 Z" fill="#55a752"/>
<path d="M1067.3 414.9 L1086.5 411 L1109.6 407.2 L1109.6 434.2 L1090.4 438 L1071.1 430.3 Z" fill="#2b4a7c"/>
<path d="M1019.1 237.7 L1032.6 251.2 L1044.2 262.7 L1055.7 278.2 L1071.1 289.7 L1109.6 303.2 L1109.6 220.4 L1013.3 220.4 Z" fill="#fdfbfb"/>
<path d="M1086.2 226.2 L1354.5 226.2 L1354.5 360.3 L1341.2 358.4 L1328 350.9 L1320.4 335.8 L1312.9 322.6 L1297.8 324.4 L1290.2 316.9 L1278.9 313.1 L1269.4 318.8 L1256.2 326.3 L1241.1 330.1 L1222.2 332.9 L1203.3 333.9 L1184.4 332.9 L1165.6 328.2 L1146.7 322.6 L1127.8 316.9 L1108.9 309.3 L1090 296.1 L1086.2 294.2 Z" fill="#fdfbfb"/>
<path d="M1090 296.1 L1108.9 309.3 L1127.8 316.9 L1146.7 322.6 L1165.6 328.2 L1184.4 332.9 L1203.3 333.9 L1222.2 332.9 L1241.1 330.1 L1256.2 326.3 L1269.4 318.8 L1278.9 313.1 L1290.2 316.9 L1290.2 322.6 L1271.3 324.4 L1256.2 330.1 L1222.2 338.6 L1184.4 338.6 L1146.7 328.2 L1108.9 315 L1090 309.3 Z" fill="#7bb05a"/>
<path d="M1086.2 307.4 L1108.9 313.1 L1127.8 320.7 L1146.7 326.3 L1165.6 332 L1184.4 335.8 L1203.3 336.7 L1222.2 335.8 L1241.1 332.9 L1256.2 329.2 L1271.3 322.6 L1286.4 318.8 L1290.2 322.6 L1275.1 330.1 L1260 337.7 L1252.4 345.2 L1254.3 352.8 L1244.9 362.2 L1239.2 373.6 L1241.1 386.8 L1246.8 400 L1256.2 418.9 L1269.4 464.2 L1086.2 464.2 Z" fill="#160a7f"/>
<path d="M1086.2 352.8 L1108.9 354.7 L1137.2 356.6 L1165.6 354.7 L1184.4 354.7 L1178.8 373.6 L1171.2 390.6 L1173.1 400 L1169.3 411.3 L1161.8 418.9 L1146.7 428.3 L1127.8 443.4 L1118.3 464.2 L1086.2 464.2 Z" fill="#37707c"/>
<path d="M1086.2 366 L1118.3 366 L1137.2 373.6 L1146.7 381.1 L1137.2 390.6 L1108.9 392.4 L1086.2 392.4 Z" fill="#3d7b7c"/>
<path d="M1086.2 400 L1108.9 409.4 L1127.8 418.9 L1118.3 437.8 L1099.4 447.2 L1086.2 447.2 Z" fill="#3d7b7c"/>
<path d="M1108.9 371.7 L1146.7 373.6 L1156.1 381.1 L1142.9 384.9 L1118.3 384.9 Z" fill="#4a9470"/>
<path d="M1118.3 428.3 L1137.2 415.1 L1146.7 418.9 L1137.2 437.8 L1124 447.2 Z" fill="#4a9470"/>
<path d="M1218.4 349 L1231.7 343.3 L1250.6 339.6 L1260 343.3 L1256.2 352.8 L1241.1 354.7 L1226 352.8 Z" fill="#a4b85f"/>
<path d="M1252.4 345.2 L1275.1 330.1 L1290.2 322.6 L1297.8 326.3 L1290.2 335.8 L1278.9 343.3 L1271.3 362.2 L1269.4 381.1 L1271.3 400 L1277 418.9 L1278.9 437.8 L1277 464.2 L1269.4 464.2 L1256.2 418.9 L1246.8 400 L1241.1 386.8 L1239.2 373.6 L1244.9 362.2 L1254.3 352.8 Z" fill="#a4b85f"/>
<path d="M1256.2 362.2 L1267.6 350.9 L1271.3 354.7 L1263.8 373.6 L1265.7 400 L1261.9 405.7 L1256.2 384.9 Z" fill="#fdfbfb"/>
<path d="M1278.9 371.7 L1294 362.2 L1301.6 366 L1297.8 381.1 L1294 400 L1297.8 418.9 L1301.6 464.2 L1278.9 464.2 L1275.1 437.8 L1278.9 418.9 L1275.1 400 L1273.2 381.1 Z" fill="#160a7f"/>
<path d="M1297.8 328.2 L1312.9 322.6 L1320.4 335.8 L1328 350.9 L1354.5 360.3 L1354.5 464.2 L1301.6 464.2 L1297.8 418.9 L1294 400 L1297.8 381.1 L1301.6 366 L1305.3 343.3 Z" fill="#b9ad6a"/>
<path d="M1299.7 381.1 L1316.7 377.3 L1335.6 384.9 L1335.6 418.9 L1326.1 447.2 L1307.2 464.2 L1301.6 464.2 L1297.8 418.9 Z" fill="#7bb05a"/>
<path d="M1316.7 358.4 L1331.8 354.7 L1341.2 362.2 L1341.2 381.1 L1331.8 377.3 Z" fill="#fdfbfb"/>
<path d="M1032.6 498.2 L1051.9 492.4 L1071.1 498.2 L1086.5 494.3 L1090.4 503.9 L1080.8 517.4 L1071.1 527 L1061.5 523.2 L1042.2 523.2 L1032.6 513.6 Z" fill="#55a752"/>
<path d="M1007.6 450 L1024.9 450 L1032.6 465.4 L1028.8 478.9 L1021 478.9 L1013.3 465.4 Z" fill="#7bb05a"/>
<path d="M1051.9 459.6 L1071.1 457.7 L1080.8 469.3 L1071.1 478.9 L1055.7 475 Z" fill="#2b4a7c"/>
<path d="M1051.9 523.2 L1061.5 527 L1065.3 536.7 L1055.7 538.6 L1048 530.9 Z" fill="#2b4a7c"/>
<path d="M1080.8 446.1 L1109.6 446.1 L1109.6 469.3 L1092.3 471.2 L1096.2 507.8 L1090.4 538.6 L1082.7 540.5 L1080.8 554 L1063.4 565.6 L1055.7 557.9 L1067.3 546.3 L1076.9 527 L1084.6 507.8 L1080.8 488.5 L1086.5 469.3 Z" fill="#160a7f"/>
<path d="M1046.1 527 L1053.8 525.1 L1051.9 530.9 Z" fill="#fdfbfb"/>
<path d="M1051.9 540.5 L1061.5 538.6 L1057.6 544.4 Z" fill="#fdfbfb"/>
<path d="M1084.3 542.6 L1116.4 542.6 L1116.4 597.3 L1084.3 597.3 Z" fill="#160a7f"/>
<path d="M1096.6 569.9 L1106.1 572.8 L1108.9 585.1 L1100.4 588.8 L1095.7 582.2 Z" fill="#55a752"/>
<path d="M1099.4 576.6 L1104.2 577.5 L1105.1 583.2 L1100.4 584.1 Z" fill="#a4b85f"/>
<path d="M1100.4 580.3 L1102.8 580 L1103.2 582.2 L1101 582.6 Z" fill="#fdfbfb"/>
<path d="M1312.9 450 L1328 450 L1335.6 487.8 L1335.6 525.6 L1331.8 555.8 L1326.1 563.3 L1322.3 544.4 L1324.2 506.7 L1316.7 478.3 Z" fill="#a4b85f"/>
<path d="M1284.6 603 L1297.8 604.9 L1316.7 620 L1335.6 638.9 L1341.2 657.8 L1335.6 669.1 L1324.2 650.2 L1307.2 631.3 L1294 616.2 Z" fill="#a4b85f"/>
<path d="M1301.6 614.3 L1309.1 616.2 L1312.9 627.6 L1307.2 629.4 Z" fill="#fdfbfb"/>
<path d="M1213.6 42.9 L1343.6 42.9 L1343.6 107.9 L1308.9 105 L1280 100.7 L1251.1 94.9 L1216.4 87.7 Z" fill="#fdfbfb"/>
<path d="M1219.3 44.3 L1239.6 44.3 L1251.1 55.9 L1265.6 63.1 L1280 68.9 L1294.4 74.7 L1308.9 83.3 L1323.3 92 L1343.6 94.9 L1343.6 100.7 L1323.3 97.8 L1306 93.4 L1287.2 87.7 L1272.8 80.4 L1258.3 73.2 L1243.9 67.4 L1230.9 58.8 Z" fill="#a4b85f"/>
<path d="M1239.6 44.3 L1280 44.3 L1294.4 54.4 L1308.9 60.2 L1323.3 66 L1343.6 68.9 L1343.6 74.7 L1316.1 73.2 L1294.4 66 L1272.8 58.8 L1254 53 Z" fill="#a4b85f"/>
<path d="M1230.9 57.3 L1243.9 61.7 L1251.1 73.2 L1239.6 73.2 L1230.9 66 Z" fill="#7bb05a"/>
<path d="M1251.1 54.4 L1265.6 57.3 L1272.8 68.9 L1262.7 71.8 L1254 64.6 Z" fill="#7bb05a"/>
<path d="M1269.9 87.7 L1280 89.1 L1288.7 94.9 L1277.1 94.9 Z" fill="#7bb05a"/>
<path d="M1245.3 71.1 L1251.1 73.2 L1256.9 79 L1251.1 80.4 L1246.8 76.1 Z" fill="#fdfbfb"/>
<path d="M1076.9 410.3 L1101.2 404.2 L1113.3 422.4 L1107.2 446.6 L1095.1 458.8 L1083 458.8 L1076.9 440.6 L1074.5 422.4 Z" fill="#2b4a7c"/>
<path d="M1083 416.4 L1089.1 420 L1101.2 434.5 L1101.2 446.6 L1089.1 440.6 Z" fill="#160a7f"/>
<path d="M1051.5 458.8 L1064.8 457.5 L1072.1 467.2 L1064.8 474.5 L1055.1 472.1 Z" fill="#2b4a7c"/>
<path d="M1047.9 401.8 L1064.8 394.5 L1076.9 387.3 L1083 390.9 L1064.8 401.8 L1052.7 406.7 Z" fill="#7bb05a"/>
<path d="M1026 498.7 L1036.9 501.2 L1038.2 519.3 L1047.9 525.4 L1047.9 539.9 L1055.1 555.7 L1062.4 565.4 L1072.1 554.5 L1081.8 549.6 L1090.3 537.5 L1092.7 513.3 L1095.1 489.1 L1086.6 470.9 L1079.4 480.6 L1076.9 501.2 L1069.7 525.4 L1060 529 L1047.9 523 L1038.2 513.3 Z" fill="#160a7f"/>
<path d="M1045.4 524.2 L1055.1 525.4 L1064.8 529 L1063.6 539.9 L1060 555.7 L1057.5 561.8 L1052.7 549.6 L1049.1 537.5 Z" fill="#55a752"/>
<path d="M1046.6 527.8 L1053.9 525.4 L1052.7 530.2 L1047.9 530.2 Z" fill="#fdfbfb"/>
<path d="M1053.9 539.9 L1062.4 538.7 L1060 543.6 L1055.1 543.6 Z" fill="#fdfbfb"/>
<path d="M1055.1 547.2 L1060 546 L1059.4 555.7 L1056.9 556.9 Z" fill="#a4b85f"/>
<path d="M837.2 353.3 L844.1 353.4 L861.6 355.3 L875.4 353.4 L905.1 353.4 L921.6 350.6 L933.7 363.5 L935.5 369.4 L942.9 371.8 L953.9 380.2 L963.2 387.6 L956.7 393.1 L974.3 407 L981.7 408.9 L1000.1 401.5 L1002 428.3 L1007.1 449.8 L1011.3 467.6 L1019.6 480.6 L1023.1 485.4 L1027.3 507.9 L1038.4 525.7 L1048.5 555.9 L1061 568.2 L1066.3 564.2 L1069.8 556.5 L1081.6 552.9 L1079.2 549.4 L1084.6 539.9 L1091.7 537.5 L1089.9 532.2 L1090.3 517.9 L1095.8 505.5 L1094 484.2 L1092.9 475.9 L1096.4 468.8 L1115.3 462.8 L1119.4 460.5 L1119.4 455.7 L1132.6 445.9 L1155 425.5 L1171.9 415.7 L1180.4 410.7 L1178.3 399.5 L1194.4 397.4 L1201.4 396.7 L1204.2 392.4 L1211.9 394.5 L1214 392.4 L1219.7 395.2 L1223.9 388.9 L1226 384 L1233.7 384 L1240.7 394.5 L1243.5 405.8 L1249.8 414.2 L1256.2 421.3 L1261.8 422.7 L1259.7 425.5 L1267.4 438.2 L1271.7 450.8 L1268.2 466.8 L1270 469.2 L1282.6 471.6 L1305 456.5 L1310.5 466.2 L1314.7 495.8 L1321.9 504.3 L1321.3 518.9 L1324.9 525.5 L1321.3 534.6 L1323.1 544.3 L1317.7 563.7 L1321.3 563.7 L1331.6 574.5 L1335.8 581.8 L1346 589.7 M1346 507.8 L1340.1 515.2 L1332.8 533.4 L1330.4 538.3 L1330.4 552.8 L1346 552.8 M1093.5 544.6 L1102.3 551.7 L1108.9 562.4 L1114.7 574.7 L1113 587.2 L1107.1 590.7 L1096.4 593.7 L1091.7 587.2 L1089.3 580.1 L1087.5 565.3 L1091.1 554.1 L1093.5 544.6 M1333 674.7 L1323.1 644.2 L1311.7 636.9 L1305 627.8 L1299 621.8 L1282.6 605.4 L1281.4 599.4 L1308.7 601.2 L1323.1 616.9 L1346 635.7" fill="none" stroke="#160a7f" stroke-width="8" stroke-linejoin="round"/>
</g>
<path d="M1247 500 L1250 498 L1256 506 L1257 520 L1254 528 L1249 527 L1247 515 Z" fill="#160a7f"/>
<path d="M1246 532 L1249 531 L1250 538 L1246 539 Z" fill="#160a7f"/>
<path d="M1255 565 L1259 563 L1262 570 L1258 573 Z" fill="#160a7f"/>
<path d="M1262 576 L1266 575 L1268 585 L1264 586 Z" fill="#160a7f"/>
<path d="M1285 632 L1290 630 L1294 638 L1289 640 Z" fill="#160a7f"/>
<path d="M1303 648 L1308 650 L1312 662 L1306 664 L1302 656 Z" fill="#160a7f"/>
<path d="M1308 568 L1312 568 L1313 574 L1309 574 Z" fill="#160a7f"/>
<path d="M993 460.8 L995 460.8 L995 463.2 L993 463.2 Z" fill="#160a7f"/>
<path d="M993 495.8 L995 495.8 L995 498.2 L993 498.2 Z" fill="#160a7f"/>
<path d="M995 501.8 L997 501.8 L997 504.2 L995 504.2 Z" fill="#160a7f"/>
<path d="M989 513.8 L991 513.8 L991 516.2 L989 516.2 Z" fill="#160a7f"/>
<path d="M988 519.8 L990 519.8 L990 522.2 L988 522.2 Z" fill="#160a7f"/>
<path d="M992 530.8 L994 530.8 L994 533.2 L992 533.2 Z" fill="#160a7f"/>
<path d="M1011 530.8 L1013 530.8 L1013 533.2 L1011 533.2 Z" fill="#160a7f"/>
<path d="M1015 526.8 L1017 526.8 L1017 529.2 L1015 529.2 Z" fill="#160a7f"/>
<path d="M1004 563.8 L1006 563.8 L1006 566.2 L1004 566.2 Z" fill="#160a7f"/>
<path d="M1001 580.8 L1003 580.8 L1003 583.2 L1001 583.2 Z" fill="#160a7f"/>
<path d="M1003 588.8 L1005 588.8 L1005 591.2 L1003 591.2 Z" fill="#160a7f"/>
<path d="M999 594.8 L1001 594.8 L1001 597.2 L999 597.2 Z" fill="#160a7f"/>
<path d="M1000 601.8 L1002 601.8 L1002 604.2 L1000 604.2 Z" fill="#160a7f"/>
<path d="M1005 600.8 L1007 600.8 L1007 603.2 L1005 603.2 Z" fill="#160a7f"/>
<path d="M1002 610.8 L1004 610.8 L1004 613.2 L1002 613.2 Z" fill="#160a7f"/>
<path d="M1007 612.8 L1009 612.8 L1009 615.2 L1007 615.2 Z" fill="#160a7f"/>
<path d="M1003 621.8 L1005 621.8 L1005 624.2 L1003 624.2 Z" fill="#160a7f"/>
<path d="M1007 626.8 L1009 626.8 L1009 629.2 L1007 629.2 Z" fill="#160a7f"/>
<path d="M1004 635.8 L1006 635.8 L1006 638.2 L1004 638.2 Z" fill="#160a7f"/>
<path d="M1008 638.8 L1010 638.8 L1010 641.2 L1008 641.2 Z" fill="#160a7f"/>
<path d="M1005 648.8 L1007 648.8 L1007 651.2 L1005 651.2 Z" fill="#160a7f"/>
<path d="M1002 658.8 L1004 658.8 L1004 661.2 L1002 661.2 Z" fill="#160a7f"/>
<path d="M1007 660.8 L1009 660.8 L1009 663.2 L1007 663.2 Z" fill="#160a7f"/>
</g>
<g clip-path="url(#clipc)">
<rect x="100" y="1014" width="502" height="626" fill="#f1eed8"/>
<path d="M124.1 1034.1 L137 1024.8 L155.6 1028.5 L161.1 1037.8 L159.3 1052.6 L148.1 1050.7 L137 1043.3 L124.1 1037.8 Z" fill="#d9f0eb"/>
<path d="M98.1 1113.7 L127.8 1102.6 L151.9 1100.7 L164.8 1110 L170.4 1121.1 L181.5 1132.2 L185.2 1143.3 L174.1 1154.4 L163 1169.3 L155.6 1184.1 L137 1187.8 L118.5 1182.2 L98.1 1176.7 Z" fill="#d9f0eb"/>
<path d="M240.7 1034.1 L253.7 1013.7 L359.3 1013.7 L359.3 1113.7 L322.2 1113.7 L285.2 1108.1 L272.2 1104.4 L266.7 1098.9 L263 1089.6 L259.3 1074.8 L248.1 1065.6 L240.7 1050.7 Z" fill="#d9f0eb"/>
<path d="M200 1121.1 L220.4 1113.7 L240.7 1113.7 L266.7 1111.9 L285.2 1113.7 L303.7 1115.6 L359.3 1113.7 L359.3 1195.2 L322.2 1195.2 L294.4 1193.3 L285.2 1195.2 L275.9 1195.2 L266.7 1173 L251.9 1150.7 L229.6 1150.7 L211.1 1145.2 L196.3 1143.3 Z" fill="#d9f0eb"/>
<path d="M274.1 1013.7 L359.3 1013.7 L359.3 1071.1 L337 1069.3 L322.2 1065.6 L303.7 1065.6 L300 1054.4 L285.2 1047 L275.9 1043.3 Z" fill="#93dccb"/>
<path d="M290.7 1026.7 L303.7 1024.8 L335.2 1026.7 L335.2 1034.1 L303.7 1035 L290.7 1034.1 Z" fill="#d9f0eb"/>
<path d="M309.3 1053.5 L335.2 1054.4 L335.2 1060 L309.3 1059.1 Z" fill="#d9f0eb"/>
<path d="M290.7 1080.4 L313 1078.5 L340.7 1080.4 L359.3 1084.1 L359.3 1098.9 L322.2 1098.9 L303.7 1097 L294.4 1093.3 Z" fill="#93dccb"/>
<path d="M213 1141.5 L225.9 1128.5 L240.7 1117.4 L257.4 1113.7 L275.9 1121.1 L285.2 1128.5 L294.4 1130.4 L322.2 1124.8 L359.3 1117.4 L359.3 1132.2 L331.5 1139.6 L313 1145.2 L294.4 1148.9 L285.2 1147 L274.1 1143.3 L257.4 1139.6 L229.6 1141.5 Z" fill="#93dccb"/>
<path d="M285.2 1150.7 L303.7 1150.7 L313 1158.1 L322.2 1167.4 L338.9 1176.7 L331.5 1182.2 L303.7 1176.7 L294.4 1178.5 L285.2 1176.7 L277.8 1169.3 Z" fill="#93dccb"/>
<path d="M98.1 1130.4 L114.8 1128.5 L127.8 1132.2 L131.5 1143.3 L129.6 1158.1 L127.8 1165.6 L114.8 1163.7 L98.1 1158.1 Z" fill="#93dccb"/>
<path d="M138.9 1150.7 L144.4 1147 L151.9 1152.6 L148.1 1158.1 L142.6 1158.1 Z" fill="#93dccb"/>
<path d="M229.6 1137.8 L238.9 1124.8 L253.7 1119.3 L263 1123 L266.7 1132.2 L257.4 1134.1 L244.4 1135.9 Z" fill="#4c9b8c"/>
<path d="M290.7 1137.8 L303.7 1132.2 L322.2 1128.5 L340.7 1123 L359.3 1121.1 L359.3 1128.5 L331.5 1134.1 L313 1137.8 L294.4 1141.5 Z" fill="#4c9b8c"/>
<path d="M318.5 1080.4 L324.1 1078.5 L326.9 1089.6 L321.3 1087.8 Z" fill="#4c9b8c"/>
<path d="M201.9 1095.2 L214.8 1089.6 L229.6 1087.8 L248.1 1087.8 L261.1 1091.5 L263 1098.9 L248.1 1104.4 L229.6 1104.4 L211.1 1106.3 L203.7 1102.6 Z" fill="#dbc789"/>
<path d="M118.5 1204.4 L137 1195.2 L155.6 1193.3 L164.8 1187.8 L174.1 1184.1 L188.9 1176.7 L196.3 1163.7 L203.7 1158.1 L214.8 1161.9 L229.6 1158.1 L244.4 1158.1 L257.4 1158.1 L261.1 1173 L270.4 1185.9 L274.1 1195.2 L266.7 1200.7 L251.9 1197 L229.6 1195.2 L220.4 1204.4 L203.7 1206.3 L187 1213.7 L174.1 1221.1 L118.5 1221.1 Z" fill="#dbc789"/>
<path d="M174.1 1158.1 L179.6 1154.4 L183.3 1160 L179.6 1163.7 Z" fill="#dbc789"/>
<path d="M277.8 1185.9 L285.2 1184.1 L294.4 1193.3 L285.2 1195.2 Z" fill="#dbc789"/>
<path d="M238.9 1208.1 L248.1 1204.4 L253.7 1210 L248.1 1213.7 Z" fill="#dbc789"/>
<path d="M98.1 1054.4 L107.4 1056.3 L107.4 1069.3 L98.1 1069.3 Z" fill="#dbc789"/>
<path d="M111.1 1061.9 L116.7 1059.1 L122.2 1063.7 L118.5 1065.6 Z" fill="#dbc789"/>
<path d="M98.1 1097 L107.4 1098.9 L106.5 1104.4 L98.1 1104.4 Z" fill="#dbc789"/>
<path d="M229.6 1097 L240.7 1095.2 L246.3 1104.4 L233.3 1102.6 Z" fill="#b87c35"/>
<path d="M192.6 1163.7 L203.7 1158.1 L211.1 1163.7 L207.4 1169.3 L196.3 1169.3 Z" fill="#b87c35"/>
<path d="M177.8 1184.1 L188.9 1180.4 L196.3 1185.9 L192.6 1195.2 L185.2 1198.9 L179.6 1191.5 Z" fill="#b87c35"/>
<path d="M203.7 1173 L218.5 1169.3 L227.8 1176.7 L225.9 1187.8 L218.5 1195.2 L209.3 1193.3 L205.6 1187.8 Z" fill="#b87c35"/>
<path d="M133.3 1198.9 L148.1 1197 L163 1200.7 L179.6 1206.3 L185.2 1213.7 L183.3 1221.1 L133.3 1221.1 L131.5 1210 Z" fill="#b87c35"/>
<path d="M196.3 1160 L201.9 1161.9 L200.9 1165.6 L196.3 1164.6 Z" fill="#7a4a1c"/>
<path d="M209.3 1180.4 L214.8 1181.3 L213.9 1189.6 L209.3 1188.7 Z" fill="#7a4a1c"/>
<path d="M140.7 1200.7 L148.1 1200.7 L149.1 1210 L142.6 1210 Z" fill="#7a4a1c"/>
<path d="M340 1013.9 L473.5 1013.9 L477.4 1029.6 L493.1 1037.5 L516.7 1049.3 L536.3 1061 L555.9 1068.9 L575.6 1072.8 L601.1 1074.8 L601.1 1080.7 L575.6 1082.6 L555.9 1088.5 L536.3 1096.4 L526.5 1108.2 L520.6 1123.9 L516.7 1137.6 L506.9 1147.4 L497 1163.1 L477.4 1163.1 L467.6 1147.4 L477.4 1137.6 L487.2 1127.8 L477.4 1104.2 L467.6 1084.6 L408.7 1080.7 L373.4 1092.4 L340 1094.4 Z" fill="#d9f0eb"/>
<path d="M340 1094.4 L373.4 1094.4 L389.1 1102.3 L414.6 1108.2 L404.8 1127.8 L389.1 1147.4 L359.6 1167 L349.8 1176.9 L340 1178.8 Z" fill="#d9f0eb"/>
<path d="M340 1178.8 L349.8 1176.9 L359.6 1182.8 L398.9 1184.7 L428.3 1172.9 L442.1 1159.2 L457.8 1149.4 L467.6 1147.4 L477.4 1165.1 L497 1167 L506.9 1172.9 L493.1 1178.8 L477.4 1186.7 L477.4 1222 L340 1222 Z" fill="#d9f0eb"/>
<path d="M522.6 1147.4 L536.3 1145.5 L555.9 1145.5 L575.6 1147.4 L585.4 1159.2 L585.4 1176.9 L595.2 1186.7 L595.2 1206.3 L575.6 1206.3 L555.9 1198.5 L536.3 1190.6 L526.5 1178.8 L536.3 1167 L526.5 1157.2 Z" fill="#d9f0eb"/>
<path d="M361.6 1057.1 L379.3 1049.3 L398.9 1049.3 L408.7 1055.2 L404.8 1068.9 L395 1074.8 L379.3 1068.9 L363.6 1065 Z" fill="#f1eed8"/>
<path d="M340 1186.7 L359.6 1190.6 L379.3 1194.5 L408.7 1196.5 L398.9 1206.3 L369.4 1206.3 L340 1204.3 Z" fill="#f1eed8"/>
<path d="M340 1013.9 L363.6 1013.9 L365.5 1027.7 L389.1 1031.6 L395 1041.4 L389.1 1049.3 L363.6 1047.3 L351.8 1061 L347.9 1076.7 L340 1076.7 Z" fill="#93dccb"/>
<path d="M398.9 1035.5 L414.6 1037.5 L428.3 1039.4 L442.1 1043.4 L457.8 1047.3 L473.5 1053.2 L489.2 1059.1 L506.9 1061 L516.7 1066.9 L516.7 1074.8 L487.2 1074.8 L481.3 1065 L467.6 1055.2 L448 1053.2 L428.3 1047.3 L408.7 1043.4 Z" fill="#93dccb"/>
<path d="M340 1082.6 L351.8 1084.6 L369.4 1090.5 L367.5 1096.4 L349.8 1096.4 L340 1094.4 Z" fill="#93dccb"/>
<path d="M340 1119.9 L359.6 1116 L375.3 1113.1 L389.1 1118 L387.1 1127.8 L371.4 1135.6 L359.6 1145.5 L340 1149.4 Z" fill="#93dccb"/>
<path d="M502.9 1092.4 L512.8 1088.5 L528.5 1090.5 L530.4 1096.4 L516.7 1098.3 L504.9 1096.4 Z" fill="#93dccb"/>
<path d="M504.9 1104.2 L510.8 1100.3 L518.6 1106.2 L514.7 1112.1 L506.9 1110.1 Z" fill="#93dccb"/>
<path d="M446 1165.1 L457.8 1159.2 L471.5 1157.2 L471.5 1167 L453.9 1171 Z" fill="#93dccb"/>
<path d="M444 1045.3 L449.9 1044.4 L453.9 1049.3 L447 1050.2 Z" fill="#4c9b8c"/>
<path d="M343.9 1086.6 L353.7 1085.6 L356.7 1090.5 L345.9 1090.5 Z" fill="#4c9b8c"/>
<path d="M340 1123.9 L357.7 1122.9 L358.6 1129.7 L340 1130.7 Z" fill="#4c9b8c"/>
<path d="M373.4 1117 L385.2 1116 L388.1 1125.8 L375.3 1124.8 Z" fill="#4c9b8c"/>
<path d="M393 1053.2 L402.8 1052.2 L403.8 1062 L395 1063 Z" fill="#dbc789"/>
<path d="M408.7 1084.6 L422.4 1082.6 L438.2 1088.5 L449.9 1092.4 L451.9 1100.3 L446 1102.3 L434.2 1096.4 L422.4 1092.4 L412.6 1088.5 Z" fill="#dbc789"/>
<path d="M485.3 1025.7 L497 1013.9 L601.1 1013.9 L601.1 1066.9 L585.4 1065 L565.8 1057.1 L546.1 1051.2 L526.5 1039.4 L506.9 1031.6 L489.2 1031.6 Z" fill="#dbc789"/>
<path d="M555.9 1119.9 L565.8 1116 L587.3 1116 L589.3 1123.9 L575.6 1126.8 L559.9 1123.9 Z" fill="#dbc789"/>
<path d="M575.6 1141.5 L583.4 1137.6 L591.3 1141.5 L583.4 1145.5 Z" fill="#dbc789"/>
<path d="M502.9 1196.5 L512.8 1193.5 L526.5 1198.5 L520.6 1204.3 L508.8 1204.3 Z" fill="#dbc789"/>
<path d="M544.2 1029.6 L552 1021.8 L575.6 1023.7 L587.3 1033.6 L579.5 1041.4 L575.6 1051.2 L563.8 1047.3 L552 1037.5 Z" fill="#b87c35"/>
<path d="M116.7 1208.1 L203.7 1208.1 L200 1221.1 L188.9 1230.4 L174.1 1239.6 L155.6 1252.6 L146.3 1263.7 L133.3 1271.1 L124.1 1269.3 L118.5 1256.3 L116.7 1237.8 Z" fill="#dbc789"/>
<path d="M133.3 1208.1 L185.2 1208.1 L187 1221.1 L190.7 1226.7 L181.5 1230.4 L166.7 1226.7 L155.6 1224.8 L140.7 1221.1 Z" fill="#b87c35"/>
<path d="M98.1 1271.1 L122.2 1271.1 L146.3 1269.3 L164.8 1256.3 L177.8 1247 L188.9 1237.8 L203.7 1224.8 L218.5 1213.7 L225.9 1210 L359.3 1210 L359.3 1421.1 L266.7 1421.1 L263 1395.2 L259.3 1371.1 L240.7 1371.1 L229.6 1358.1 L220.4 1343.3 L203.7 1332.2 L192.6 1321.1 L179.6 1319.3 L155.6 1321.1 L127.8 1323 L98.1 1324.8 Z" fill="#d9f0eb"/>
<path d="M98.1 1324.8 L181.5 1321.1 L192.6 1337.8 L218.5 1358.1 L229.6 1376.7 L259.3 1373 L266.7 1421.1 L98.1 1421.1 Z" fill="#d9f0eb"/>
<path d="M98.1 1371.1 L114.8 1369.3 L131.5 1343.3 L155.6 1335.9 L179.6 1334.1 L203.7 1343.3 L220.4 1361.9 L229.6 1376.7 L259.3 1373 L263 1421.1 L98.1 1421.1 Z" fill="#f1eed8"/>
<path d="M98.1 1304.4 L127.8 1302.6 L155.6 1298.9 L174.1 1287.8 L183.3 1265.6 L192.6 1252.6 L203.7 1237.8 L214.8 1224.8 L222.2 1217.4 L229.6 1224.8 L248.1 1228.5 L266.7 1232.2 L285.2 1235.9 L303.7 1243.3 L322.2 1247 L359.3 1248.9 L359.3 1421.1 L281.5 1421.1 L277.8 1385.9 L283.3 1373 L266.7 1369.3 L251.9 1369.3 L229.6 1358.1 L220.4 1343.3 L203.7 1332.2 L192.6 1321.1 L179.6 1319.3 L155.6 1321.1 L127.8 1323 L98.1 1324.8 Z" fill="#93dccb"/>
<path d="M285.2 1302.6 L303.7 1302.6 L316.7 1313.7 L309.3 1330.4 L305.6 1339.6 L294.4 1350.7 L285.2 1339.6 L275.9 1337.8 L285.2 1321.1 Z" fill="#d9f0eb"/>
<path d="M294.4 1219.3 L309.3 1210 L359.3 1210 L359.3 1228.5 L322.2 1232.2 L303.7 1235.9 L292.6 1226.7 Z" fill="#d9f0eb"/>
<path d="M98.1 1310 L127.8 1308.1 L155.6 1306.3 L170.4 1298.9 L177.8 1284.1 L185.2 1265.6 L198.1 1250.7 L211.1 1241.5 L222.2 1232.2 L229.6 1239.6 L238.9 1234.1 L248.1 1243.3 L266.7 1247 L285.2 1247 L296.3 1252.6 L285.2 1265.6 L266.7 1276.7 L248.1 1284.1 L238.9 1293.3 L229.6 1298.9 L214.8 1302.6 L211.1 1313.7 L201.9 1306.3 L192.6 1298.9 L174.1 1310 L155.6 1313.7 L127.8 1315.6 L98.1 1317.4 Z" fill="#4c9b8c"/>
<path d="M300 1265.6 L322.2 1267.4 L359.3 1271.1 L359.3 1311.9 L331.5 1308.1 L313 1298.9 L303.7 1284.1 Z" fill="#4c9b8c"/>
<path d="M248.1 1319.3 L259.3 1315.6 L270.4 1321.1 L263 1323.9 Z" fill="#4c9b8c"/>
<path d="M183.3 1284.1 L188.9 1261.9 L198.1 1252.6 L211.1 1247 L220.4 1241.5 L229.6 1247 L237 1241.5 L240.7 1247 L253.7 1250.7 L266.7 1254.4 L274.1 1261.9 L266.7 1269.3 L248.1 1278.5 L229.6 1284.1 L214.8 1291.5 L207.4 1306.3 L200 1302.6 L188.9 1298.9 Z" fill="#265e4e"/>
<path d="M188.9 1263.7 L198.1 1258.1 L211.1 1250.7 L222.2 1247 L233.3 1254.4 L240.7 1250.7 L251.9 1256.3 L263 1260 L257.4 1269.3 L240.7 1278.5 L222.2 1284.1 L211.1 1287.8 L203.7 1298.9 L192.6 1295.2 L187 1280.4 Z" fill="#1f4a3a"/>
<path d="M340 1208 L467.6 1208 L469.6 1221.8 L449.9 1221.8 L434.2 1229.6 L418.5 1237.5 L398.9 1243.4 L389.1 1249.3 L379.3 1259.1 L363.6 1259.1 L351.8 1249.3 L340 1245.3 Z" fill="#d9f0eb"/>
<path d="M485.3 1221.8 L497 1215.9 L536.3 1213.9 L555.9 1208 L601.1 1208 L601.1 1280.7 L575.6 1284.6 L555.9 1278.7 L536.3 1274.8 L516.7 1268.9 L501 1257.1 L493.1 1239.4 Z" fill="#d9f0eb"/>
<path d="M501 1292.4 L516.7 1288.5 L536.3 1284.6 L555.9 1284.6 L575.6 1288.5 L555.9 1298.3 L536.3 1308.2 L516.7 1316 L502.9 1319.9 L497 1308.2 Z" fill="#d9f0eb"/>
<path d="M340 1265 L379.3 1265 L408.7 1276.7 L438.2 1288.5 L449.9 1298.3 L457.8 1312.1 L467.6 1323.9 L469.6 1343.5 L461.7 1359.2 L453.9 1363.1 L438.2 1367 L434.2 1371 L418.5 1382.8 L414.6 1398.5 L398.9 1422 L340 1422 Z" fill="#d9f0eb"/>
<path d="M340 1268.9 L359.6 1270.9 L379.3 1276.7 L395 1288.5 L408.7 1304.2 L428.3 1319.9 L438.2 1331.7 L442.1 1347.4 L434.2 1363.1 L424.4 1372.9 L418.5 1367 L414.6 1351.3 L398.9 1347.4 L379.3 1343.5 L367.5 1347.4 L373.4 1359.2 L355.7 1372.9 L363.6 1386.7 L379.3 1382.8 L389.1 1390.6 L379.3 1406.3 L369.4 1422 L340 1422 Z" fill="#93dccb"/>
<path d="M402.8 1382.8 L408.7 1365.1 L414.6 1367 L416.6 1386.7 L406.7 1396.5 Z" fill="#93dccb"/>
<path d="M552 1367 L565.8 1363.1 L575.6 1372.9 L565.8 1386.7 L555.9 1382.8 Z" fill="#d9f0eb"/>
<path d="M438.2 1402.4 L449.9 1398.5 L453.9 1406.3 L442.1 1414.2 Z" fill="#d9f0eb"/>
<path d="M340 1278.7 L361.6 1282.6 L363.6 1284.6 L360.6 1310.1 L340 1311.1 Z" fill="#4c9b8c"/>
<path d="M424.4 1252.2 L438.2 1245.3 L449.9 1237.5 L461.7 1231.6 L477.4 1233.6 L481.3 1247.3 L475.5 1257.1 L469.6 1266.9 L473.5 1278.7 L457.8 1278.7 L448 1272.8 L449.9 1261 L438.2 1255.2 Z" fill="#dbc789"/>
<path d="M481.3 1278.7 L489.2 1263 L493.1 1265 L489.2 1278.7 Z" fill="#dbc789"/>
<path d="M575.6 1327.8 L583.4 1308.2 L595.2 1302.3 L601.1 1302.3 L601.1 1371 L591.3 1369 L579.5 1351.3 Z" fill="#dbc789"/>
<path d="M591.3 1319.9 L601.1 1318 L601.1 1335.6 L591.3 1333.7 Z" fill="#b87c35"/>
<path d="M98.1 1489.6 L114.8 1480.4 L120.4 1471.1 L129.6 1474.8 L132.4 1487.8 L125.9 1497 L111.1 1504.4 L98.1 1506.3 Z" fill="#d9f0eb"/>
<path d="M257.4 1408.1 L359.3 1408.1 L359.3 1502.6 L338.9 1506.3 L331.5 1517.4 L322.2 1539.6 L313 1530.4 L303.7 1513.7 L294.4 1498.9 L285.2 1484.1 L275.9 1471.1 L270.4 1456.3 L263 1437.8 Z" fill="#d9f0eb"/>
<path d="M277.8 1417.4 L285.2 1415.6 L303.7 1428.5 L313 1447 L322.2 1458.1 L318.5 1474.8 L327.8 1493.3 L331.5 1506.3 L322.2 1521.1 L313 1513.7 L303.7 1498.9 L294.4 1480.4 L285.2 1461.9 L281.5 1447 L277.8 1432.2 Z" fill="#f1eed8"/>
<path d="M313 1408.1 L359.3 1408.1 L359.3 1443.3 L346.3 1437.8 L340.7 1428.5 L322.2 1419.3 Z" fill="#93dccb"/>
<path d="M335.2 1471.1 L344.4 1463.7 L359.3 1463.7 L359.3 1504.4 L338.9 1502.6 L335.2 1489.6 Z" fill="#93dccb"/>
<path d="M195.4 1608.1 L200 1600.7 L207.4 1599.8 L220.4 1604.4 L240.7 1610 L248.1 1617.4 L244.4 1620.2 L229.6 1619.3 L218.5 1621.1 L203.7 1613.7 Z" fill="#dbc789"/>
<path d="M340 1408 L446 1408 L446 1415.9 L422.4 1429.6 L418.5 1445.3 L412.6 1459.1 L414.6 1468.9 L398.9 1484.6 L389.1 1488.5 L383.2 1480.7 L369.4 1478.7 L355.7 1488.5 L345.9 1502.3 L340 1504.2 Z" fill="#d9f0eb"/>
<path d="M347.9 1519.9 L359.6 1523.9 L371.4 1543.5 L369.4 1557.2 L355.7 1563.1 L347.9 1551.3 Z" fill="#d9f0eb"/>
<path d="M340 1408 L398.9 1408 L383.2 1417.9 L375.3 1425.7 L359.6 1429.6 L349.8 1435.5 L345.9 1443.4 L340 1445.3 Z" fill="#93dccb"/>
<path d="M340 1466.9 L349.8 1461 L353.7 1468.9 L351.8 1484.6 L347.9 1496.4 L340 1502.3 Z" fill="#93dccb"/>
<path d="M591.3 1457.1 L601.1 1455.2 L601.1 1488.5 L593.2 1484.6 Z" fill="#dbc789"/>
</g>
<g clip-path="url(#clipd)">
<g mask="url(#maskd)">
<rect x="836" y="1014" width="512" height="626" fill="#d9f0eb"/>
<path d="M835 1010 L1099.5 1010 L1099.5 1072.3 L1076.8 1074.2 L1076.8 1085.6 L1059.8 1087.4 L1057.9 1091.2 L1037.1 1104.4 L1033.3 1115.8 L1023.9 1115.8 L1012.6 1123.3 L995.6 1123.3 L978.6 1123.3 L974.8 1115.8 L965.3 1102.6 L948.3 1108.2 L929.4 1115.8 L921.9 1123.3 L897.3 1142.2 L897.3 1151.7 L903 1161.1 L901.1 1170.6 L872.8 1180 L872.8 1198.9 L867.1 1220 L835 1220 Z" fill="#f1eed8"/>
<path d="M971 1146 L986.1 1142.2 L1005 1142.2 L1023.9 1149.8 L1005 1157.3 L1014.4 1170.6 L1005 1180 L986.1 1183.8 L974.8 1180 Z" fill="#f1eed8"/>
<path d="M1012.6 1123.3 L1025.8 1117.7 L1037.1 1121.4 L1035.2 1138.4 L1023.9 1142.2 L1014.4 1132.8 Z" fill="#f1eed8"/>
<path d="M901.1 1170.6 L916.2 1163 L927.6 1170.6 L916.2 1180 Z" fill="#f1eed8"/>
<path d="M870.9 1183.8 L901.1 1183.8 L918.1 1185.7 L935.1 1191.3 L938.9 1198.9 L929.4 1210.2 L901.1 1210.2 L882.2 1204.6 Z" fill="#f1eed8"/>
<path d="M1057.9 1181.9 L1074.9 1176.2 L1099.5 1172.4 L1099.5 1208.3 L1080.6 1198.9 L1067.3 1191.3 Z" fill="#93dccb"/>
<path d="M944.6 1221.6 L957.8 1206.4 L978.6 1197 L1005 1193.2 L1023.9 1194.2 L1042.8 1198.9 L1061.7 1210.2 L1071.1 1221.6 Z" fill="#93dccb"/>
<path d="M957.8 1221.6 L971 1206.4 L986.1 1198.9 L1005 1197 L1023.9 1198.9 L1042.8 1206.4 L1054.1 1221.6 Z" fill="#4c9b8c"/>
<path d="M972.9 1221.6 L984.2 1206.4 L997.4 1200.8 L1014.4 1198.9 L1033.3 1204.6 L1046.6 1221.6 Z" fill="#265e4e"/>
<path d="M989.9 1221.6 L995.6 1210.2 L1014.4 1206.4 L1033.3 1210.2 L1039 1221.6 Z" fill="#1f4a3a"/>
<path d="M1081.1 1010 L1334.3 1010 L1330.4 1049.3 L1344.1 1068.9 L1348.1 1127.8 L1320.6 1123.9 L1291.1 1116 L1261.7 1112.1 L1246 1119.9 L1234.2 1133.7 L1222.4 1131.7 L1202.8 1123.9 L1187.1 1119.9 L1187.1 1108.2 L1202.8 1096.4 L1222.4 1088.5 L1210.6 1082.6 L1187.1 1072.8 L1163.5 1068.9 L1143.9 1068.9 L1081.1 1070.9 Z" fill="#f1eed8"/>
<path d="M1102.7 1135.6 L1114.4 1129.7 L1149.8 1125.8 L1163.5 1133.7 L1143.9 1147.4 L1122.3 1153.3 L1102.7 1147.4 Z" fill="#f1eed8"/>
<path d="M1173.3 1222 L1183.2 1206.3 L1202.8 1204.3 L1222.4 1206.3 L1242 1222 Z" fill="#f1eed8"/>
<path d="M1081.1 1174.9 L1114.4 1176.9 L1143.9 1171 L1169.4 1164.1 L1193 1167 L1206.7 1172.9 L1206.7 1182.8 L1183.2 1186.7 L1163.5 1196.5 L1143.9 1204.3 L1145.9 1222 L1081.1 1222 Z" fill="#93dccb"/>
<path d="M1191 1159.2 L1204.7 1158.2 L1202.8 1171 Z" fill="#93dccb"/>
<path d="M1320.6 1157.2 L1330.4 1146.4 L1348.1 1153.3 L1340.2 1167 L1332.3 1171 Z" fill="#93dccb"/>
<path d="M1228.3 1193.5 L1238.1 1188.6 L1253.8 1193.5 L1251.9 1197.5 L1230.3 1195.5 Z" fill="#93dccb"/>
<path d="M835 1206.2 L933.2 1206.2 L933.2 1215.7 L867.1 1217.6 L880.3 1228.9 L878.4 1240.2 L867.1 1253.4 L853.9 1264.8 L835 1272.3 Z" fill="#f1eed8"/>
<path d="M835 1302.6 L853.9 1296.9 L872.8 1289.3 L891.7 1279.9 L910.6 1266.7 L925.7 1257.2 L940.8 1244 L944.6 1228.9 L952.1 1213.8 L959.7 1206.2 L974.8 1206.2 L967.2 1219.4 L957.8 1238.3 L948.3 1257.2 L935.1 1272.3 L920 1285.6 L901.1 1295 L882.2 1302.6 L853.9 1308.2 L835 1312 Z" fill="#93dccb"/>
<path d="M835 1312 L853.9 1308.2 L882.2 1302.6 L901.1 1295 L920 1285.6 L935.1 1272.3 L948.3 1257.2 L957.8 1238.3 L967.2 1219.4 L974.8 1206.2 L991.8 1206.2 L1005 1215.7 L1023.9 1228.9 L1042.8 1238.3 L1052.2 1247.8 L1071.1 1257.2 L1099.5 1266.7 L1099.5 1420 L1061.7 1420 L1061.7 1398.9 L1056 1380 L1052.2 1370.6 L1029.6 1370.6 L1023.9 1370.6 L1010.7 1376.2 L1005 1361.1 L995.6 1353.6 L986.1 1342.2 L986.1 1327.1 L1001.2 1315.8 L1005 1308.2 L1010.7 1291.2 L1005 1287.4 L986.1 1285.6 L971 1289.3 L957.8 1302.6 L938.9 1308.2 L920 1315.8 L901.1 1319.6 L872.8 1321.4 L835 1323.3 L835 1342.2 L948.3 1342.2 L948.3 1436.7 L835 1436.7 Z" fill="#4c9b8c"/>
<path d="M920 1315.8 L938.9 1308.2 L957.8 1302.6 L971 1289.3 L986.1 1285.6 L1005 1287.4 L1010.7 1291.2 L1005 1308.2 L1001.2 1315.8 L986.1 1327.1 L986.1 1342.2 L995.6 1353.6 L1005 1361.1 L997.4 1372.4 L982.3 1376.2 L967.2 1368.7 L959.7 1361.1 L957.8 1357.3 L952.1 1349.8 L948.3 1342.2 L933.2 1338.4 L925.7 1327.1 Z" fill="#93dccb"/>
<path d="M835 1323.3 L872.8 1321.4 L901.1 1319.6 L920 1315.8 L925.7 1327.1 L933.2 1338.4 L948.3 1342.2 L952.1 1349.8 L957.8 1357.3 L959.7 1361.1 L967.2 1368.7 L982.3 1376.2 L997.4 1372.4 L999.3 1380 L1005 1420 L835 1420 Z" fill="#d9f0eb"/>
<path d="M1029.6 1370.6 L1052.2 1370.6 L1056 1380 L1061.7 1398.9 L1042.8 1404.6 L1029.6 1408.3 Z" fill="#93dccb"/>
<path d="M999.3 1380 L1023.9 1370.6 L1029.6 1380 L1029.6 1420 L1005 1420 Z" fill="#93dccb"/>
<path d="M948.3 1278 L955.9 1257.2 L963.4 1228.9 L971 1215.7 L978.6 1206.2 L1027.7 1206.2 L1035.2 1225.1 L1042.8 1238.3 L1033.3 1253.4 L1023.9 1266.7 L1014.4 1272.3 L997.4 1262.9 L991.8 1257.2 L967.2 1270.4 Z" fill="#265e4e"/>
<path d="M1023.9 1247.8 L1042.8 1238.3 L1061.7 1247.8 L1080.6 1257.2 L1099.5 1262.9 L1099.5 1357.3 L1080.6 1353.6 L1061.7 1361.1 L1042.8 1363 L1023.9 1353.6 L1031.4 1342.2 L1031.4 1327.1 L1029.6 1300.7 L1029.6 1278 Z" fill="#265e4e"/>
<path d="M991.8 1206.2 L1023.9 1206.2 L1039 1225.1 L1052.2 1238.3 L1071.1 1251.6 L1099.5 1259.1 L1099.5 1289.3 L1080.6 1285.6 L1061.7 1276.1 L1042.8 1266.7 L1029.6 1257.2 L1023.9 1247.8 L1014.4 1228.9 L1001.2 1219.4 Z" fill="#1f4a3a"/>
<path d="M1040.9 1285.6 L1052.2 1283.7 L1061.7 1289.3 L1054.1 1300.7 L1042.8 1302.6 Z" fill="#1f4a3a"/>
<path d="M1033.3 1342.2 L1042.8 1334.7 L1054.1 1338.4 L1054.1 1353.6 L1039 1359.2 Z" fill="#1f4a3a"/>
<path d="M1088.9 1206.1 L1143.9 1206.1 L1147.8 1217.9 L1138 1229.6 L1124.3 1235.5 L1104.6 1233.6 L1088.9 1221.8 Z" fill="#93dccb"/>
<path d="M1081.1 1235.5 L1104.6 1245.3 L1134.1 1259.1 L1163.5 1272.8 L1193 1284.6 L1212.6 1292.4 L1222.4 1300.3 L1222.4 1312.1 L1238.1 1308.2 L1261.7 1314 L1271.5 1319.9 L1271.5 1337.6 L1291.1 1351.3 L1281.3 1359.2 L1271.5 1359.2 L1251.9 1347.4 L1246 1339.6 L1238.1 1347.4 L1226.3 1367 L1202.8 1376.9 L1183.2 1386.7 L1163.5 1398.5 L1143.9 1406.3 L1124.3 1422 L1081.1 1422 Z" fill="#93dccb"/>
<path d="M1302.9 1337.6 L1320.6 1331.7 L1348.1 1325.8 L1348.1 1347.4 L1330.4 1351.3 L1318.6 1363.1 L1320.6 1374.9 L1310.8 1378.8 L1297 1372.9 L1306.8 1357.2 Z" fill="#93dccb"/>
<path d="M1081.1 1249.3 L1104.6 1259.1 L1134.1 1268.9 L1153.7 1280.7 L1173.3 1288.5 L1193 1296.4 L1206.7 1304.2 L1218.5 1318 L1238.1 1325.8 L1236.2 1337.6 L1222.4 1339.6 L1212.6 1347.4 L1193 1363.1 L1173.3 1372.9 L1163.5 1380.8 L1153.7 1396.5 L1134.1 1406.3 L1114.4 1422 L1081.1 1422 Z" fill="#4c9b8c"/>
<path d="M1081.1 1265 L1104.6 1274.8 L1124.3 1284.6 L1143.9 1292.4 L1163.5 1298.3 L1171.4 1308.2 L1171.4 1316 L1159.6 1325.8 L1143.9 1327.8 L1124.3 1327.8 L1104.6 1331.7 L1081.1 1339.6 Z" fill="#265e4e"/>
<path d="M1081.1 1268.9 L1094.8 1272.8 L1110.5 1302.3 L1081.1 1304.2 Z" fill="#1f4a3a"/>
<path d="M1149.8 1255.2 L1173.3 1247.3 L1171.4 1221.8 L1183.2 1206.1 L1222.4 1206.1 L1238.1 1215.9 L1242 1229.6 L1234.2 1245.3 L1218.5 1255.2 L1202.8 1261 L1173.3 1265 L1163.5 1261 Z" fill="#f1eed8"/>
<path d="M1120.3 1243.4 L1128.2 1241.4 L1136 1243.8 L1128.2 1246.3 Z" fill="#f1eed8"/>
<path d="M1295.1 1255.2 L1302.9 1252.2 L1308.8 1255.2 L1300.9 1259.1 Z" fill="#f1eed8"/>
<path d="M1279.3 1278.3 L1283.3 1275.8 L1287.2 1278.3 L1283.3 1280.7 Z" fill="#f1eed8"/>
<path d="M1005 1406.2 L1099.5 1406.2 L1099.5 1512 L1080.6 1512 L1076.8 1517.7 L1061.7 1504.4 L1048.4 1489.3 L1033.3 1481.8 L1023.9 1466.7 L1016.3 1444 L1008.8 1428.9 Z" fill="#93dccb"/>
<path d="M1033.3 1406.2 L1099.5 1406.2 L1099.5 1421.3 L1071.1 1421.3 L1052.2 1415.7 Z" fill="#4c9b8c"/>
<path d="M1037.1 1433.6 L1044.7 1429.8 L1065.4 1433.6 L1059.8 1440.2 L1039 1436.4 Z" fill="#d9f0eb"/>
<path d="M1081.1 1406.1 L1143.9 1406.1 L1120.3 1427.7 L1120.3 1433.6 L1096.8 1441.4 L1092.9 1453.2 L1094.8 1474.8 L1088.9 1492.4 L1088.9 1512.1 L1081.1 1512.1 Z" fill="#93dccb"/>
<path d="M1334.3 1433.6 L1348.1 1415.9 L1348.1 1563.1 L1340.2 1547.4 L1332.3 1535.6 L1330.4 1519.9 L1334.3 1494.4 L1332.3 1468.9 L1330.4 1445.3 Z" fill="#f1eed8"/>
<path d="M1285.2 1572.9 L1314.7 1576.9 L1330.4 1578.8 L1348.1 1604.3 L1348.1 1635.8 L1332.3 1631.8 L1320.6 1618.1 L1306.8 1606.3 L1299 1598.5 L1293.1 1586.7 Z" fill="#f1eed8"/>
<path d="M1299 1598.5 L1312.7 1580.8 L1330.4 1578.8 L1330.4 1598.5 L1320.6 1606.3 L1306.8 1606.3 Z" fill="#d9f0eb"/>
<path d="M940 1179 L1201 1179 L1201 1284 L1171.1 1278.2 L1151.9 1272.4 L1123 1260.9 L1103.7 1253.2 L1084.5 1237.8 L1065.2 1224.3 L1045.9 1208.9 L1030.5 1199.3 L1017 1190.6 L988.2 1191.6 L959.3 1199.3 L940 1208.9 Z" fill="#d9f0eb"/>
<path d="M1057.5 1179 L1201 1179 L1201 1189.6 L1171.1 1191.6 L1161.5 1203.1 L1148 1218.5 L1132.6 1230.1 L1113.3 1233.9 L1094.1 1228.2 L1084.5 1208.9 L1065.2 1191.6 Z" fill="#93dccb"/>
<path d="M1146.1 1253.2 L1161.5 1243.6 L1175 1218.5 L1182.7 1207 L1201 1205 L1201 1264.7 L1171.1 1264.7 L1151.9 1257 Z" fill="#f1eed8"/>
<path d="M1117.2 1243.6 L1124.9 1241.2 L1132.6 1243.6 L1124.9 1245.9 Z" fill="#f1eed8"/>
<path d="M970.8 1179 L1009.3 1179 L1003.6 1185.8 L982.4 1187.7 Z" fill="#f1eed8"/>
<path d="M940 1208.9 L959.3 1199.3 L988.2 1191.6 L1017 1190.6 L1030.5 1199.3 L1045.9 1208.9 L1065.2 1224.3 L1084.5 1237.8 L1103.7 1253.2 L1123 1260.9 L1151.9 1272.4 L1171.1 1278.2 L1201 1284 L1201 1381.3 L940 1381.3 Z" fill="#93dccb"/>
<path d="M940 1224.3 L951.6 1212.7 L965 1203.1 L982.4 1197.3 L1003.6 1195.4 L1022.8 1198.3 L1036.3 1205 L1055.6 1218.5 L1074.8 1233.9 L1094.1 1247.4 L1113.3 1259 L1132.6 1266.7 L1151.9 1274.4 L1171.1 1280.2 L1201 1287.9 L1201 1381.3 L1036.3 1381.3 L1026.7 1364.9 L1017 1361 L1007.4 1343.7 L997.8 1334.1 L988.2 1324.5 L997.8 1299.4 L1007.4 1287.9 L988.2 1284 L968.9 1284 L949.6 1287.9 L940 1295.6 Z" fill="#4c9b8c"/>
<path d="M947.7 1278.2 L951.6 1257 L959.3 1237.8 L968.9 1218.5 L982.4 1207 L997.8 1201.2 L1017 1202.1 L1030.5 1208.9 L1045.9 1224.3 L1065.2 1239.7 L1084.5 1253.2 L1103.7 1264.7 L1123 1276.3 L1142.2 1287.9 L1161.5 1297.5 L1171.1 1305.2 L1171.1 1314.8 L1161.5 1326.4 L1142.2 1326.4 L1123 1328.3 L1094.1 1332.2 L1086.4 1339.9 L1084.5 1353.3 L1065.2 1361 L1045.9 1363 L1026.7 1351.4 L1032.4 1337.9 L1045.9 1326.4 L1065.2 1314.8 L1055.6 1307.1 L1036.3 1309 L1026.7 1291.7 L1026.7 1280.2 L1017 1270.5 L997.8 1260.9 L978.5 1264.7 L959.3 1272.4 Z" fill="#265e4e"/>
<path d="M992 1207 L1011.3 1205 L1022.8 1212.7 L1040.2 1230.1 L1055.6 1243.6 L1074.8 1257 L1090.2 1272.4 L1103.7 1287.9 L1109.5 1301.3 L1119.1 1303.3 L1103.7 1303.3 L1090.2 1295.6 L1074.8 1287.9 L1059.4 1276.3 L1047.9 1266.7 L1036.3 1257 L1024.7 1249.3 L1013.2 1239.7 L1003.6 1228.2 L995.9 1216.6 Z" fill="#1f4a3a"/>
<path d="M1040.2 1287.9 L1047.9 1284 L1055.6 1287.9 L1055.6 1299.4 L1044 1303.3 Z" fill="#1f4a3a"/>
<path d="M1030.5 1347.6 L1042.1 1334.1 L1053.6 1337.9 L1055.6 1347.6 L1044 1357.2 Z" fill="#1f4a3a"/>
</g>
</g>
<g clip-path="url(#clipa)" fill="none" stroke="#000" stroke-width="2.4" stroke-linejoin="round">
<path d="M90.5 353.1 L97.6 353.2 L115.4 355.1 L129.5 353.2 L159.7 353.2 L176.6 350.3 L188.9 363.6 L190.7 369.6 L198.2 372 L209.5 380.6 L219 388.1 L212.4 393.7 L230.3 407.9 L237.8 409.8 L256.6 402.3 L258.5 429.6 L263.7 451.5 L268 469.6 L276.4 482.9 L280 487.8 L284.3 510.7 L295.6 528.8 L305.9 559.6 L318.6 572.2 L324 568 L327.6 560.2 L339.7 556.5 L337.2 553 L342.7 543.3 L349.9 540.8 L348.1 535.4 L348.5 520.9 L354.1 508.2 L352.3 486.5 L351.2 478.1 L354.7 470.9 L374 464.7 L378.2 462.4 L378.2 457.5 L391.6 447.5 L414.5 426.7 L431.7 416.8 L440.3 411.7 L438.2 400.3 L454.6 398.1 L461.8 397.4 L464.6 393 L472.5 395.2 L474.6 393 L480.4 395.9 L484.7 389.5 L486.8 384.5 L494.6 384.5 L501.9 395.2 L504.7 406.7 L511.1 415.2 L517.6 422.5 L523.3 423.9 L521.2 426.7 L529 439.7 L533.4 452.5 L529.8 468.8 L531.6 471.3 L544.6 473.7 L567.3 458.3 L572.9 468.2 L577.2 498.4 L584.6 507 L584 521.9 L587.7 528.6 L584 537.9 L585.8 547.8 L580.3 567.5 L584 567.5 L594.5 578.6 L598.8 586.1 L609.1 594.1"/>
<path d="M609.1 510.6 L603.1 518.1 L595.7 536.7 L593.3 541.7 L593.3 556.4 L609.1 556.4"/>
<path d="M351.8 548.1 L360.7 555.3 L367.4 566.2 L373.4 578.8 L371.6 591.6 L365.6 595.1 L354.7 598.2 L349.9 591.6 L347.5 584.3 L345.7 569.3 L349.3 557.8 L351.8 548.1"/>
<path d="M595.9 680.7 L585.8 649.7 L574.2 642.2 L567.3 632.9 L561.2 626.8 L544.6 610.1 L543.3 604 L571.1 605.8 L585.8 621.8 L609.1 641"/>
</g>
<rect x="223.7" y="229.9" width="63.4" height="63.4" fill="none" stroke="#000" stroke-width="7.6"/>
<rect x="287.1" y="267.9" width="63.4" height="63.4" fill="none" stroke="#000" stroke-width="7.6"/>
<rect x="350.6" y="293.3" width="63.4" height="63.4" fill="none" stroke="#000" stroke-width="7.6"/>
<g clip-path="url(#clipb)" fill="none" stroke="#000" stroke-width="1.7" stroke-linejoin="round">
<path d="M837.2 353.3 L844.1 353.4 L861.6 355.3 L875.4 353.4 L905.1 353.4 L921.6 350.6 L933.7 363.5 L935.5 369.4 L942.9 371.8 L953.9 380.2 L963.2 387.6 L956.7 393.1 L974.3 407 L981.7 408.9 L1000.1 401.5 L1002 428.3 L1007.1 449.8 L1011.3 467.6 L1019.6 480.6 L1023.1 485.4 L1027.3 507.9 L1038.4 525.7 L1048.5 555.9 L1061 568.2 L1066.3 564.2 L1069.8 556.5 L1081.6 552.9 L1079.2 549.4 L1084.6 539.9 L1091.7 537.5 L1089.9 532.2 L1090.3 517.9 L1095.8 505.5 L1094 484.2 L1092.9 475.9 L1096.4 468.8 L1115.3 462.8 L1119.4 460.5 L1119.4 455.7 L1132.6 445.9 L1155 425.5 L1171.9 415.7 L1180.4 410.7 L1178.3 399.5 L1194.4 397.4 L1201.4 396.7 L1204.2 392.4 L1211.9 394.5 L1214 392.4 L1219.7 395.2 L1223.9 388.9 L1226 384 L1233.7 384 L1240.7 394.5 L1243.5 405.8 L1249.8 414.2 L1256.2 421.3 L1261.8 422.7 L1259.7 425.5 L1267.4 438.2 L1271.7 450.8 L1268.2 466.8 L1270 469.2 L1282.6 471.6 L1305 456.5 L1310.5 466.2 L1314.7 495.8 L1321.9 504.3 L1321.3 518.9 L1324.9 525.5 L1321.3 534.6 L1323.1 544.3 L1317.7 563.7 L1321.3 563.7 L1331.6 574.5 L1335.8 581.8 L1346 589.7"/>
<path d="M1346 507.8 L1340.1 515.2 L1332.8 533.4 L1330.4 538.3 L1330.4 552.8 L1346 552.8"/>
<path d="M1093.5 544.6 L1102.3 551.7 L1108.9 562.4 L1114.7 574.7 L1113 587.2 L1107.1 590.7 L1096.4 593.7 L1091.7 587.2 L1089.3 580.1 L1087.5 565.3 L1091.1 554.1 L1093.5 544.6"/>
<path d="M1333 674.7 L1323.1 644.2 L1311.7 636.9 L1305 627.8 L1299 621.8 L1282.6 605.4 L1281.4 599.4 L1308.7 601.2 L1323.1 616.9 L1346 635.7"/>
</g>
<g clip-path="url(#clipc)" fill="none" stroke="#000" stroke-width="2.4" stroke-linejoin="round">
<path d="M95 1323.4 L101.9 1323.5 L119.4 1325.4 L133.3 1323.5 L163 1323.5 L179.6 1320.7 L191.7 1333.7 L193.5 1339.6 L200.9 1342 L212 1350.4 L221.3 1357.8 L214.8 1363.3 L232.4 1377.2 L239.8 1379.1 L258.3 1371.7 L260.2 1398.5 L265.3 1420 L269.5 1437.8 L277.8 1450.8 L281.3 1455.6 L285.5 1478.1 L296.7 1495.9 L306.8 1526.1 L319.3 1538.5 L324.6 1534.4 L328.1 1526.7 L340 1523.1 L337.6 1519.6 L343 1510.1 L350.1 1507.7 L348.3 1502.4 L348.7 1488.1 L354.2 1475.7 L352.4 1454.4 L351.3 1446.1 L354.8 1439 L373.8 1433 L377.9 1430.7 L377.9 1425.9 L391.1 1416.1 L413.6 1395.7 L430.5 1385.9 L439 1380.9 L436.9 1369.7 L453 1367.6 L460.1 1366.9 L462.9 1362.6 L470.6 1364.7 L472.7 1362.6 L478.4 1365.4 L482.6 1359.1 L484.7 1354.2 L492.4 1354.2 L499.5 1364.7 L502.3 1376 L508.6 1384.4 L515 1391.5 L520.6 1392.9 L518.5 1395.7 L526.2 1408.4 L530.5 1421 L527 1437 L528.8 1439.4 L541.5 1441.8 L563.9 1426.7 L569.4 1436.4 L573.6 1466 L580.9 1474.5 L580.3 1489.1 L583.9 1495.7 L580.3 1504.8 L582.1 1514.5 L576.6 1533.9 L580.3 1533.9 L590.6 1544.8 L594.8 1552.1 L605 1560"/>
<path d="M605 1478 L599.1 1485.4 L591.8 1503.6 L589.4 1508.5 L589.4 1523 L605 1523"/>
<path d="M351.9 1514.8 L360.7 1521.9 L367.3 1532.6 L373.2 1545 L371.4 1557.5 L365.5 1561 L354.8 1564 L350.1 1557.5 L347.7 1550.4 L345.9 1535.6 L349.5 1524.3 L351.9 1514.8"/>
<path d="M592 1645 L582.1 1614.5 L570.6 1607.2 L563.9 1598.1 L557.9 1592.1 L541.5 1575.7 L540.3 1569.7 L567.6 1571.5 L582.1 1587.2 L605 1606"/>
</g>
<g clip-path="url(#clipc)" fill="#000">
<circle cx="286.1" cy="1018.7" r="4.65"/>
<circle cx="316.6" cy="1018.7" r="4.65"/>
<circle cx="347" cy="1018.7" r="2.0"/>
<circle cx="529.7" cy="1018.7" r="2.0"/>
<circle cx="560.1" cy="1018.7" r="2.0"/>
<circle cx="590.6" cy="1018.7" r="2.0"/>
<circle cx="301.3" cy="1049.2" r="4.65"/>
<circle cx="331.8" cy="1049.2" r="4.65"/>
<circle cx="453.6" cy="1049.2" r="4.65"/>
<circle cx="575.4" cy="1049.2" r="4.65"/>
<circle cx="103.4" cy="1079.6" r="4.65"/>
<circle cx="164.3" cy="1079.6" r="2.0"/>
<circle cx="316.6" cy="1079.6" r="4.65"/>
<circle cx="347" cy="1079.6" r="2.0"/>
<circle cx="514.5" cy="1110.1" r="4.65"/>
<circle cx="575.4" cy="1110.1" r="2.0"/>
<circle cx="103.4" cy="1140.5" r="4.65"/>
<circle cx="133.8" cy="1140.5" r="2.0"/>
<circle cx="225.2" cy="1140.5" r="2.0"/>
<circle cx="255.7" cy="1140.5" r="4.65"/>
<circle cx="286.1" cy="1140.5" r="4.65"/>
<circle cx="316.6" cy="1140.5" r="2.0"/>
<circle cx="590.6" cy="1140.5" r="2.0"/>
<circle cx="210" cy="1171" r="4.65"/>
<circle cx="240.4" cy="1171" r="2.0"/>
<circle cx="133.8" cy="1201.4" r="4.65"/>
<circle cx="164.3" cy="1201.4" r="4.65"/>
<circle cx="194.8" cy="1201.4" r="4.65"/>
<circle cx="225.2" cy="1201.4" r="2.0"/>
<circle cx="255.7" cy="1201.4" r="2.0"/>
<circle cx="286.1" cy="1201.4" r="2.0"/>
<circle cx="118.6" cy="1231.9" r="4.65"/>
<circle cx="149.1" cy="1231.9" r="4.65"/>
<circle cx="179.5" cy="1231.9" r="4.65"/>
<circle cx="210" cy="1231.9" r="4.65"/>
<circle cx="240.4" cy="1231.9" r="2.0"/>
<circle cx="301.3" cy="1231.9" r="4.65"/>
<circle cx="103.4" cy="1262.3" r="4.65"/>
<circle cx="133.8" cy="1262.3" r="4.65"/>
<circle cx="164.3" cy="1262.3" r="2.0"/>
<circle cx="194.8" cy="1262.3" r="4.65"/>
<circle cx="225.2" cy="1262.3" r="4.65"/>
<circle cx="255.7" cy="1262.3" r="4.65"/>
<circle cx="286.1" cy="1262.3" r="4.65"/>
<circle cx="316.6" cy="1262.3" r="4.65"/>
<circle cx="347" cy="1262.3" r="2.0"/>
<circle cx="179.5" cy="1292.8" r="4.65"/>
<circle cx="210" cy="1292.8" r="4.65"/>
<circle cx="240.4" cy="1292.8" r="4.65"/>
<circle cx="270.9" cy="1292.8" r="4.65"/>
<circle cx="331.8" cy="1292.8" r="4.65"/>
<circle cx="362.2" cy="1292.8" r="4.65"/>
<circle cx="392.7" cy="1292.8" r="2.0"/>
<circle cx="423.1" cy="1292.8" r="2.0"/>
<circle cx="453.6" cy="1292.8" r="4.65"/>
<circle cx="103.4" cy="1323.2" r="4.65"/>
<circle cx="133.8" cy="1323.2" r="4.65"/>
<circle cx="164.3" cy="1323.2" r="4.65"/>
<circle cx="194.8" cy="1323.2" r="2.0"/>
<circle cx="225.2" cy="1323.2" r="4.65"/>
<circle cx="255.7" cy="1323.2" r="4.65"/>
<circle cx="347" cy="1323.2" r="4.65"/>
<circle cx="377.5" cy="1323.2" r="4.65"/>
<circle cx="499.2" cy="1323.2" r="2.0"/>
<circle cx="590.6" cy="1323.2" r="4.65"/>
<circle cx="118.6" cy="1353.7" r="2.0"/>
<circle cx="240.4" cy="1353.7" r="4.65"/>
<circle cx="270.9" cy="1353.7" r="2.0"/>
<circle cx="331.8" cy="1353.7" r="4.65"/>
<circle cx="484" cy="1353.7" r="4.65"/>
<circle cx="575.4" cy="1353.7" r="4.65"/>
<circle cx="103.4" cy="1384.1" r="4.65"/>
<circle cx="286.1" cy="1384.1" r="2.0"/>
<circle cx="316.6" cy="1384.1" r="4.65"/>
<circle cx="347" cy="1384.1" r="4.65"/>
<circle cx="407.9" cy="1384.1" r="4.65"/>
<circle cx="529.7" cy="1384.1" r="2.0"/>
<circle cx="590.6" cy="1384.1" r="2.0"/>
<circle cx="118.6" cy="1414.5" r="4.65"/>
<circle cx="331.8" cy="1414.5" r="4.65"/>
<circle cx="362.2" cy="1414.5" r="4.65"/>
<circle cx="392.7" cy="1414.5" r="4.65"/>
<circle cx="484" cy="1414.5" r="4.65"/>
<circle cx="514.5" cy="1414.5" r="4.65"/>
<circle cx="529.7" cy="1445" r="2.0"/>
<circle cx="453.6" cy="1475.5" r="4.65"/>
<circle cx="164.3" cy="1505.9" r="4.65"/>
<circle cx="194.8" cy="1505.9" r="4.65"/>
<circle cx="225.2" cy="1505.9" r="4.65"/>
<circle cx="255.7" cy="1505.9" r="4.65"/>
<circle cx="438.4" cy="1505.9" r="4.65"/>
<circle cx="468.8" cy="1505.9" r="2.0"/>
<circle cx="590.6" cy="1505.9" r="4.65"/>
<circle cx="118.6" cy="1536.4" r="4.65"/>
<circle cx="149.1" cy="1536.4" r="4.65"/>
<circle cx="179.5" cy="1536.4" r="4.65"/>
<circle cx="210" cy="1536.4" r="4.65"/>
<circle cx="240.4" cy="1536.4" r="4.65"/>
<circle cx="270.9" cy="1536.4" r="4.65"/>
<circle cx="301.3" cy="1536.4" r="2.0"/>
<circle cx="392.7" cy="1536.4" r="4.65"/>
<circle cx="423.1" cy="1536.4" r="4.65"/>
<circle cx="453.6" cy="1536.4" r="4.65"/>
<circle cx="484" cy="1536.4" r="2.0"/>
<circle cx="514.5" cy="1536.4" r="2.0"/>
<circle cx="575.4" cy="1536.4" r="4.65"/>
<circle cx="103.4" cy="1566.8" r="4.65"/>
<circle cx="133.8" cy="1566.8" r="4.65"/>
<circle cx="164.3" cy="1566.8" r="4.65"/>
<circle cx="194.8" cy="1566.8" r="4.65"/>
<circle cx="225.2" cy="1566.8" r="4.65"/>
<circle cx="255.7" cy="1566.8" r="4.65"/>
<circle cx="286.1" cy="1566.8" r="4.65"/>
<circle cx="316.6" cy="1566.8" r="4.65"/>
<circle cx="347" cy="1566.8" r="4.65"/>
<circle cx="377.5" cy="1566.8" r="4.65"/>
<circle cx="407.9" cy="1566.8" r="4.65"/>
<circle cx="438.4" cy="1566.8" r="4.65"/>
<circle cx="468.8" cy="1566.8" r="4.65"/>
<circle cx="499.2" cy="1566.8" r="4.65"/>
<circle cx="529.7" cy="1566.8" r="4.65"/>
<circle cx="560.1" cy="1566.8" r="4.65"/>
<circle cx="590.6" cy="1566.8" r="2.0"/>
<circle cx="118.6" cy="1597.2" r="4.65"/>
<circle cx="149.1" cy="1597.2" r="4.65"/>
<circle cx="179.5" cy="1597.2" r="4.65"/>
<circle cx="210" cy="1597.2" r="4.65"/>
<circle cx="240.4" cy="1597.2" r="4.65"/>
<circle cx="270.9" cy="1597.2" r="4.65"/>
<circle cx="301.3" cy="1597.2" r="4.65"/>
<circle cx="331.8" cy="1597.2" r="4.65"/>
<circle cx="362.2" cy="1597.2" r="4.65"/>
<circle cx="392.7" cy="1597.2" r="4.65"/>
<circle cx="423.1" cy="1597.2" r="4.65"/>
<circle cx="453.6" cy="1597.2" r="4.65"/>
<circle cx="484" cy="1597.2" r="4.65"/>
<circle cx="514.5" cy="1597.2" r="4.65"/>
<circle cx="544.9" cy="1597.2" r="4.65"/>
<circle cx="103.4" cy="1627.7" r="4.65"/>
<circle cx="133.8" cy="1627.7" r="4.65"/>
<circle cx="164.3" cy="1627.7" r="4.65"/>
<circle cx="194.8" cy="1627.7" r="4.65"/>
<circle cx="225.2" cy="1627.7" r="4.65"/>
<circle cx="255.7" cy="1627.7" r="4.65"/>
<circle cx="286.1" cy="1627.7" r="4.65"/>
<circle cx="316.6" cy="1627.7" r="4.65"/>
<circle cx="347" cy="1627.7" r="4.65"/>
<circle cx="377.5" cy="1627.7" r="4.65"/>
<circle cx="407.9" cy="1627.7" r="4.65"/>
<circle cx="438.4" cy="1627.7" r="4.65"/>
<circle cx="468.8" cy="1627.7" r="4.65"/>
<circle cx="499.2" cy="1627.7" r="4.65"/>
<circle cx="529.7" cy="1627.7" r="4.65"/>
<circle cx="560.1" cy="1627.7" r="4.65"/>
<circle cx="590.6" cy="1627.7" r="2.0"/>
</g>
<g clip-path="url(#clipd)" fill="none" stroke="#000" stroke-width="2.5" stroke-linejoin="round">
<path d="M831.4 1322.6 L838.4 1322.7 L856.2 1324.6 L870.4 1322.7 L900.6 1322.7 L917.5 1319.8 L929.9 1333.1 L931.7 1339.1 L939.2 1341.6 L950.5 1350.1 L960 1357.7 L953.4 1363.3 L971.3 1377.5 L978.9 1379.4 L997.7 1371.9 L999.6 1399.2 L1004.8 1421.2 L1009.1 1439.4 L1017.6 1452.6 L1021.1 1457.5 L1025.4 1480.5 L1036.8 1498.6 L1047.1 1529.5 L1059.8 1542.1 L1065.2 1537.9 L1068.8 1530.1 L1080.9 1526.4 L1078.5 1522.8 L1084 1513.1 L1091.2 1510.7 L1089.4 1505.3 L1089.8 1490.7 L1095.4 1478 L1093.5 1456.3 L1092.4 1447.8 L1096 1440.6 L1115.3 1434.5 L1119.5 1432.1 L1119.5 1427.2 L1132.9 1417.2 L1155.9 1396.4 L1173.1 1386.4 L1181.7 1381.3 L1179.6 1369.8 L1196 1367.7 L1203.2 1367 L1206.1 1362.6 L1213.9 1364.7 L1216 1362.6 L1221.9 1365.5 L1226.1 1359 L1228.3 1354 L1236.1 1354 L1243.3 1364.7 L1246.2 1376.3 L1252.6 1384.8 L1259.1 1392.1 L1264.8 1393.5 L1262.7 1396.4 L1270.5 1409.3 L1274.9 1422.2 L1271.3 1438.5 L1273.2 1441 L1286.1 1443.4 L1308.9 1428 L1314.5 1437.9 L1318.8 1468.1 L1326.2 1476.8 L1325.6 1491.7 L1329.3 1498.4 L1325.6 1507.7 L1327.5 1517.6 L1321.9 1537.4 L1325.6 1537.4 L1336.1 1548.6 L1340.4 1556 L1350.8 1564.1"/>
<path d="M1350.8 1480.4 L1344.8 1487.9 L1337.3 1506.5 L1334.9 1511.5 L1334.9 1526.3 L1350.8 1526.3"/>
<path d="M1093 1517.9 L1102 1525.2 L1108.7 1536.1 L1114.7 1548.8 L1112.9 1561.5 L1106.9 1565.1 L1096 1568.2 L1091.2 1561.5 L1088.7 1554.3 L1086.9 1539.2 L1090.6 1527.6 L1093 1517.9"/>
<path d="M1337.5 1650.8 L1327.5 1619.7 L1315.8 1612.2 L1308.9 1603 L1302.8 1596.8 L1286.1 1580.1 L1284.9 1574 L1312.7 1575.8 L1327.5 1591.8 L1350.8 1611"/>
</g>
<g clip-path="url(#clipd)" fill="#000">
<circle cx="864.6" cy="1018.7" r="4.65"/>
<circle cx="895.1" cy="1018.7" r="4.65"/>
<circle cx="925.5" cy="1018.7" r="4.65"/>
<circle cx="956" cy="1018.7" r="4.65"/>
<circle cx="986.4" cy="1018.7" r="4.65"/>
<circle cx="1016.9" cy="1018.7" r="4.65"/>
<circle cx="1047.3" cy="1018.7" r="4.65"/>
<circle cx="1077.8" cy="1018.7" r="4.65"/>
<circle cx="1108.2" cy="1018.7" r="4.65"/>
<circle cx="1138.7" cy="1018.7" r="4.65"/>
<circle cx="1169.2" cy="1018.7" r="4.65"/>
<circle cx="1199.6" cy="1018.7" r="4.65"/>
<circle cx="1230" cy="1018.7" r="2.0"/>
<circle cx="1260.5" cy="1018.7" r="4.65"/>
<circle cx="1291" cy="1018.7" r="4.65"/>
<circle cx="1321.4" cy="1018.7" r="2.0"/>
<circle cx="849.4" cy="1049.2" r="4.65"/>
<circle cx="879.9" cy="1049.2" r="4.65"/>
<circle cx="910.3" cy="1049.2" r="4.65"/>
<circle cx="940.8" cy="1049.2" r="4.65"/>
<circle cx="971.2" cy="1049.2" r="4.65"/>
<circle cx="1001.7" cy="1049.2" r="4.65"/>
<circle cx="1032.1" cy="1049.2" r="4.65"/>
<circle cx="1062.6" cy="1049.2" r="4.65"/>
<circle cx="1093" cy="1049.2" r="4.65"/>
<circle cx="1123.5" cy="1049.2" r="4.65"/>
<circle cx="1153.9" cy="1049.2" r="4.65"/>
<circle cx="1184.4" cy="1049.2" r="4.65"/>
<circle cx="1214.8" cy="1049.2" r="4.65"/>
<circle cx="1245.3" cy="1049.2" r="4.65"/>
<circle cx="1275.7" cy="1049.2" r="4.65"/>
<circle cx="1306.2" cy="1049.2" r="4.65"/>
<circle cx="1336.6" cy="1049.2" r="2.0"/>
<circle cx="864.6" cy="1079.6" r="4.65"/>
<circle cx="895.1" cy="1079.6" r="4.65"/>
<circle cx="925.5" cy="1079.6" r="4.65"/>
<circle cx="956" cy="1079.6" r="4.65"/>
<circle cx="986.4" cy="1079.6" r="4.65"/>
<circle cx="1016.9" cy="1079.6" r="4.65"/>
<circle cx="1047.3" cy="1079.6" r="2.0"/>
<circle cx="1108.2" cy="1079.6" r="4.65"/>
<circle cx="1138.7" cy="1079.6" r="2.0"/>
<circle cx="1169.2" cy="1079.6" r="4.65"/>
<circle cx="1199.6" cy="1079.6" r="4.65"/>
<circle cx="1230" cy="1079.6" r="4.65"/>
<circle cx="1260.5" cy="1079.6" r="4.65"/>
<circle cx="1291" cy="1079.6" r="4.65"/>
<circle cx="1321.4" cy="1079.6" r="4.65"/>
<circle cx="849.4" cy="1110.1" r="4.65"/>
<circle cx="879.9" cy="1110.1" r="4.65"/>
<circle cx="910.3" cy="1110.1" r="4.65"/>
<circle cx="1093" cy="1110.1" r="4.65"/>
<circle cx="1123.5" cy="1110.1" r="4.65"/>
<circle cx="1153.9" cy="1110.1" r="4.65"/>
<circle cx="1184.4" cy="1110.1" r="2.0"/>
<circle cx="1245.3" cy="1110.1" r="2.0"/>
<circle cx="1275.7" cy="1110.1" r="2.0"/>
<circle cx="1306.2" cy="1110.1" r="2.0"/>
<circle cx="1336.6" cy="1110.1" r="2.0"/>
<circle cx="864.6" cy="1140.5" r="4.65"/>
<circle cx="895.1" cy="1140.5" r="4.65"/>
<circle cx="925.5" cy="1140.5" r="4.65"/>
<circle cx="956" cy="1140.5" r="2.0"/>
<circle cx="986.4" cy="1140.5" r="4.65"/>
<circle cx="1016.9" cy="1140.5" r="2.0"/>
<circle cx="1047.3" cy="1140.5" r="4.65"/>
<circle cx="1077.8" cy="1140.5" r="4.65"/>
<circle cx="1138.7" cy="1140.5" r="2.0"/>
<circle cx="1169.2" cy="1140.5" r="2.0"/>
<circle cx="1199.6" cy="1140.5" r="4.65"/>
<circle cx="1230" cy="1140.5" r="2.0"/>
<circle cx="1260.5" cy="1140.5" r="4.65"/>
<circle cx="1291" cy="1140.5" r="4.65"/>
<circle cx="1321.4" cy="1140.5" r="4.65"/>
<circle cx="849.4" cy="1171" r="4.65"/>
<circle cx="910.3" cy="1171" r="2.0"/>
<circle cx="940.8" cy="1171" r="2.0"/>
<circle cx="971.2" cy="1171" r="4.65"/>
<circle cx="1001.7" cy="1171" r="4.65"/>
<circle cx="1032.1" cy="1171" r="4.65"/>
<circle cx="1062.6" cy="1171" r="4.65"/>
<circle cx="1093" cy="1171" r="4.65"/>
<circle cx="1123.5" cy="1171" r="4.65"/>
<circle cx="1153.9" cy="1171" r="4.65"/>
<circle cx="1184.4" cy="1171" r="4.65"/>
<circle cx="1214.8" cy="1171" r="4.65"/>
<circle cx="1245.3" cy="1171" r="4.65"/>
<circle cx="1275.7" cy="1171" r="4.65"/>
<circle cx="1306.2" cy="1171" r="4.65"/>
<circle cx="1336.6" cy="1171" r="4.65"/>
<circle cx="895.1" cy="1201.4" r="2.0"/>
<circle cx="925.5" cy="1201.4" r="4.65"/>
<circle cx="956" cy="1201.4" r="4.65"/>
<circle cx="986.4" cy="1201.4" r="4.65"/>
<circle cx="1016.9" cy="1201.4" r="4.65"/>
<circle cx="1047.3" cy="1201.4" r="4.65"/>
<circle cx="1077.8" cy="1201.4" r="4.65"/>
<circle cx="1108.2" cy="1201.4" r="4.65"/>
<circle cx="1138.7" cy="1201.4" r="4.65"/>
<circle cx="1169.2" cy="1201.4" r="2.0"/>
<circle cx="1199.6" cy="1201.4" r="2.0"/>
<circle cx="1230" cy="1201.4" r="4.65"/>
<circle cx="1260.5" cy="1201.4" r="4.65"/>
<circle cx="1291" cy="1201.4" r="4.65"/>
<circle cx="1321.4" cy="1201.4" r="4.65"/>
<circle cx="849.4" cy="1231.9" r="4.65"/>
<circle cx="879.9" cy="1231.9" r="4.65"/>
<circle cx="910.3" cy="1231.9" r="4.65"/>
<circle cx="940.8" cy="1231.9" r="4.65"/>
<circle cx="971.2" cy="1231.9" r="4.65"/>
<circle cx="1001.7" cy="1231.9" r="4.65"/>
<circle cx="1032.1" cy="1231.9" r="4.65"/>
<circle cx="1062.6" cy="1231.9" r="4.65"/>
<circle cx="1093" cy="1231.9" r="4.65"/>
<circle cx="1123.5" cy="1231.9" r="4.65"/>
<circle cx="1153.9" cy="1231.9" r="4.65"/>
<circle cx="1184.4" cy="1231.9" r="4.65"/>
<circle cx="1214.8" cy="1231.9" r="4.65"/>
<circle cx="1245.3" cy="1231.9" r="4.65"/>
<circle cx="1275.7" cy="1231.9" r="4.65"/>
<circle cx="1306.2" cy="1231.9" r="4.65"/>
<circle cx="1336.6" cy="1231.9" r="4.65"/>
<circle cx="864.6" cy="1262.3" r="2.0"/>
<circle cx="895.1" cy="1262.3" r="4.65"/>
<circle cx="925.5" cy="1262.3" r="4.65"/>
<circle cx="956" cy="1262.3" r="4.65"/>
<circle cx="986.4" cy="1262.3" r="4.65"/>
<circle cx="1016.9" cy="1262.3" r="4.65"/>
<circle cx="1047.3" cy="1262.3" r="4.65"/>
<circle cx="1077.8" cy="1262.3" r="4.65"/>
<circle cx="1108.2" cy="1262.3" r="4.65"/>
<circle cx="1138.7" cy="1262.3" r="4.65"/>
<circle cx="1169.2" cy="1262.3" r="2.0"/>
<circle cx="1199.6" cy="1262.3" r="4.65"/>
<circle cx="1230" cy="1262.3" r="4.65"/>
<circle cx="1260.5" cy="1262.3" r="4.65"/>
<circle cx="1291" cy="1262.3" r="4.65"/>
<circle cx="1321.4" cy="1262.3" r="4.65"/>
<circle cx="849.4" cy="1292.8" r="4.65"/>
<circle cx="879.9" cy="1292.8" r="4.65"/>
<circle cx="910.3" cy="1292.8" r="4.65"/>
<circle cx="940.8" cy="1292.8" r="4.65"/>
<circle cx="971.2" cy="1292.8" r="4.65"/>
<circle cx="1001.7" cy="1292.8" r="4.65"/>
<circle cx="1032.1" cy="1292.8" r="4.65"/>
<circle cx="1062.6" cy="1292.8" r="4.65"/>
<circle cx="1093" cy="1292.8" r="4.65"/>
<circle cx="1123.5" cy="1292.8" r="4.65"/>
<circle cx="1153.9" cy="1292.8" r="4.65"/>
<circle cx="1184.4" cy="1292.8" r="4.65"/>
<circle cx="1214.8" cy="1292.8" r="4.65"/>
<circle cx="1245.3" cy="1292.8" r="4.65"/>
<circle cx="1275.7" cy="1292.8" r="4.65"/>
<circle cx="1306.2" cy="1292.8" r="4.65"/>
<circle cx="1336.6" cy="1292.8" r="4.65"/>
<circle cx="864.6" cy="1323.2" r="4.65"/>
<circle cx="895.1" cy="1323.2" r="4.65"/>
<circle cx="925.5" cy="1323.2" r="4.65"/>
<circle cx="956" cy="1323.2" r="4.65"/>
<circle cx="986.4" cy="1323.2" r="4.65"/>
<circle cx="1016.9" cy="1323.2" r="4.65"/>
<circle cx="1047.3" cy="1323.2" r="4.65"/>
<circle cx="1077.8" cy="1323.2" r="4.65"/>
<circle cx="1108.2" cy="1323.2" r="4.65"/>
<circle cx="1138.7" cy="1323.2" r="4.65"/>
<circle cx="1169.2" cy="1323.2" r="4.65"/>
<circle cx="1199.6" cy="1323.2" r="4.65"/>
<circle cx="1230" cy="1323.2" r="4.65"/>
<circle cx="1260.5" cy="1323.2" r="4.65"/>
<circle cx="1291" cy="1323.2" r="4.65"/>
<circle cx="1321.4" cy="1323.2" r="4.65"/>
<circle cx="940.8" cy="1353.7" r="2.0"/>
<circle cx="971.2" cy="1353.7" r="4.65"/>
<circle cx="1001.7" cy="1353.7" r="4.65"/>
<circle cx="1032.1" cy="1353.7" r="4.65"/>
<circle cx="1062.6" cy="1353.7" r="4.65"/>
<circle cx="1093" cy="1353.7" r="4.65"/>
<circle cx="1123.5" cy="1353.7" r="4.65"/>
<circle cx="1153.9" cy="1353.7" r="4.65"/>
<circle cx="1184.4" cy="1353.7" r="4.65"/>
<circle cx="1214.8" cy="1353.7" r="4.65"/>
<circle cx="1245.3" cy="1353.7" r="4.65"/>
<circle cx="1275.7" cy="1353.7" r="4.65"/>
<circle cx="1306.2" cy="1353.7" r="4.65"/>
<circle cx="1336.6" cy="1353.7" r="4.65"/>
<circle cx="956" cy="1384.1" r="2.0"/>
<circle cx="986.4" cy="1384.1" r="4.65"/>
<circle cx="1016.9" cy="1384.1" r="4.65"/>
<circle cx="1047.3" cy="1384.1" r="4.65"/>
<circle cx="1077.8" cy="1384.1" r="4.65"/>
<circle cx="1108.2" cy="1384.1" r="4.65"/>
<circle cx="1138.7" cy="1384.1" r="4.65"/>
<circle cx="1169.2" cy="1384.1" r="4.65"/>
<circle cx="1260.5" cy="1384.1" r="4.65"/>
<circle cx="1291" cy="1384.1" r="4.65"/>
<circle cx="1321.4" cy="1384.1" r="4.65"/>
<circle cx="1001.7" cy="1414.5" r="4.65"/>
<circle cx="1032.1" cy="1414.5" r="4.65"/>
<circle cx="1062.6" cy="1414.5" r="4.65"/>
<circle cx="1093" cy="1414.5" r="4.65"/>
<circle cx="1123.5" cy="1414.5" r="4.65"/>
<circle cx="1153.9" cy="1414.5" r="2.0"/>
<circle cx="1275.7" cy="1414.5" r="4.65"/>
<circle cx="1306.2" cy="1414.5" r="4.65"/>
<circle cx="1336.6" cy="1414.5" r="2.0"/>
<circle cx="1016.9" cy="1445" r="4.65"/>
<circle cx="1047.3" cy="1445" r="4.65"/>
<circle cx="1077.8" cy="1445" r="4.65"/>
<circle cx="1321.4" cy="1445" r="4.65"/>
<circle cx="1032.1" cy="1475.5" r="4.65"/>
<circle cx="1062.6" cy="1475.5" r="4.65"/>
<circle cx="1093" cy="1475.5" r="4.65"/>
<circle cx="1336.6" cy="1475.5" r="4.65"/>
<circle cx="1047.3" cy="1505.9" r="4.65"/>
<circle cx="1077.8" cy="1505.9" r="4.65"/>
<circle cx="1062.6" cy="1536.4" r="4.65"/>
<circle cx="1093" cy="1536.4" r="4.65"/>
<circle cx="1336.6" cy="1536.4" r="4.65"/>
<circle cx="1108.2" cy="1566.8" r="4.65"/>
<circle cx="1306.2" cy="1597.2" r="4.65"/>
<circle cx="1336.6" cy="1597.2" r="4.65"/>
</g>
<line x1="102.4" y1="483.6" x2="598" y2="483.6" stroke="#000" stroke-width="1.9" stroke-dasharray="1.9 2.86" fill="none"/>
<line x1="102.4" y1="293.3" x2="598" y2="293.3" stroke="#000" stroke-width="1.9" stroke-dasharray="1.9 2.86" fill="none"/>
<line x1="102.4" y1="103" x2="598" y2="103" stroke="#000" stroke-width="1.9" stroke-dasharray="1.9 2.86" fill="none"/>
<line x1="287.1" y1="45.7" x2="287.1" y2="669" stroke="#000" stroke-width="1.9" stroke-dasharray="1.9 2.86" fill="none"/>
<line x1="477.5" y1="45.7" x2="477.5" y2="669" stroke="#000" stroke-width="1.9" stroke-dasharray="1.9 2.86" fill="none"/>
<rect x="102.4" y="45.7" width="495.6" height="623.3" fill="none" stroke="#000" stroke-width="1.8"/>
<line x1="93.4" y1="483.6" x2="102.4" y2="483.6" stroke="#000" stroke-width="1.8"/>
<text x="82.4" y="497" font-size="35.5" text-anchor="end" textLength="80.5" lengthAdjust="spacingAndGlyphs" font-family='"Liberation Sans", sans-serif'>15°N</text>
<line x1="93.4" y1="293.3" x2="102.4" y2="293.3" stroke="#000" stroke-width="1.8"/>
<text x="82.4" y="306.7" font-size="35.5" text-anchor="end" textLength="80.5" lengthAdjust="spacingAndGlyphs" font-family='"Liberation Sans", sans-serif'>30°N</text>
<line x1="93.4" y1="103" x2="102.4" y2="103" stroke="#000" stroke-width="1.8"/>
<text x="82.4" y="116.4" font-size="35.5" text-anchor="end" textLength="80.5" lengthAdjust="spacingAndGlyphs" font-family='"Liberation Sans", sans-serif'>45°N</text>
<line x1="287.1" y1="669" x2="287.1" y2="678" stroke="#000" stroke-width="1.8"/>
<text x="287.1" y="712.8" font-size="35.5" text-anchor="middle" textLength="78" lengthAdjust="spacingAndGlyphs" font-family='"Liberation Sans", sans-serif'>75°E</text>
<line x1="477.5" y1="669" x2="477.5" y2="678" stroke="#000" stroke-width="1.8"/>
<text x="477.5" y="712.8" font-size="35.5" text-anchor="middle" textLength="78" lengthAdjust="spacingAndGlyphs" font-family='"Liberation Sans", sans-serif'>90°E</text>
<line x1="843.3" y1="481.4" x2="1341.1" y2="481.4" stroke="#000" stroke-width="1.9" stroke-dasharray="1.9 2.86" fill="none"/>
<line x1="843.3" y1="294.6" x2="1341.1" y2="294.6" stroke="#000" stroke-width="1.9" stroke-dasharray="1.9 2.86" fill="none"/>
<line x1="843.3" y1="107.8" x2="1341.1" y2="107.8" stroke="#000" stroke-width="1.9" stroke-dasharray="1.9 2.86" fill="none"/>
<line x1="1030" y1="45.6" x2="1030" y2="669" stroke="#000" stroke-width="1.9" stroke-dasharray="1.9 2.86" fill="none"/>
<line x1="1216.8" y1="45.6" x2="1216.8" y2="669" stroke="#000" stroke-width="1.9" stroke-dasharray="1.9 2.86" fill="none"/>
<rect x="843.3" y="45.6" width="497.8" height="623.4" fill="none" stroke="#000" stroke-width="1.8"/>
<line x1="834.3" y1="481.4" x2="843.3" y2="481.4" stroke="#000" stroke-width="1.8"/>
<text x="823.3" y="494.8" font-size="35.5" text-anchor="end" textLength="80.5" lengthAdjust="spacingAndGlyphs" font-family='"Liberation Sans", sans-serif'>15°N</text>
<line x1="834.3" y1="294.6" x2="843.3" y2="294.6" stroke="#000" stroke-width="1.8"/>
<text x="823.3" y="308" font-size="35.5" text-anchor="end" textLength="80.5" lengthAdjust="spacingAndGlyphs" font-family='"Liberation Sans", sans-serif'>30°N</text>
<line x1="834.3" y1="107.8" x2="843.3" y2="107.8" stroke="#000" stroke-width="1.8"/>
<text x="823.3" y="121.2" font-size="35.5" text-anchor="end" textLength="80.5" lengthAdjust="spacingAndGlyphs" font-family='"Liberation Sans", sans-serif'>45°N</text>
<line x1="1030" y1="669" x2="1030" y2="678" stroke="#000" stroke-width="1.8"/>
<text x="1030" y="712.8" font-size="35.5" text-anchor="middle" textLength="78" lengthAdjust="spacingAndGlyphs" font-family='"Liberation Sans", sans-serif'>75°E</text>
<line x1="1216.8" y1="669" x2="1216.8" y2="678" stroke="#000" stroke-width="1.8"/>
<text x="1216.8" y="712.8" font-size="35.5" text-anchor="middle" textLength="78" lengthAdjust="spacingAndGlyphs" font-family='"Liberation Sans", sans-serif'>90°E</text>
<line x1="101.1" y1="1451.6" x2="600.3" y2="1451.6" stroke="#000" stroke-width="1.9" stroke-dasharray="1.9 2.86" fill="none"/>
<line x1="101.1" y1="1264.7" x2="600.3" y2="1264.7" stroke="#000" stroke-width="1.9" stroke-dasharray="1.9 2.86" fill="none"/>
<line x1="101.1" y1="1077.9" x2="600.3" y2="1077.9" stroke="#000" stroke-width="1.9" stroke-dasharray="1.9 2.86" fill="none"/>
<line x1="288.3" y1="1015.6" x2="288.3" y2="1638.3" stroke="#000" stroke-width="1.9" stroke-dasharray="1.9 2.86" fill="none"/>
<line x1="475.5" y1="1015.6" x2="475.5" y2="1638.3" stroke="#000" stroke-width="1.9" stroke-dasharray="1.9 2.86" fill="none"/>
<rect x="101.1" y="1015.6" width="499.2" height="622.7" fill="none" stroke="#000" stroke-width="1.8"/>
<line x1="92.1" y1="1451.6" x2="101.1" y2="1451.6" stroke="#000" stroke-width="1.8"/>
<text x="81.1" y="1465" font-size="35.5" text-anchor="end" textLength="80.5" lengthAdjust="spacingAndGlyphs" font-family='"Liberation Sans", sans-serif'>15°N</text>
<line x1="92.1" y1="1264.7" x2="101.1" y2="1264.7" stroke="#000" stroke-width="1.8"/>
<text x="81.1" y="1278.1" font-size="35.5" text-anchor="end" textLength="80.5" lengthAdjust="spacingAndGlyphs" font-family='"Liberation Sans", sans-serif'>30°N</text>
<line x1="92.1" y1="1077.9" x2="101.1" y2="1077.9" stroke="#000" stroke-width="1.8"/>
<text x="81.1" y="1091.3" font-size="35.5" text-anchor="end" textLength="80.5" lengthAdjust="spacingAndGlyphs" font-family='"Liberation Sans", sans-serif'>45°N</text>
<line x1="92.1" y1="1638.4" x2="101.1" y2="1638.4" stroke="#000" stroke-width="1.8"/>
<text x="81.1" y="1651.8" font-size="35.5" text-anchor="end" textLength="33.5" lengthAdjust="spacingAndGlyphs" font-family='"Liberation Sans", sans-serif'>0°</text>
<line x1="288.3" y1="1638.3" x2="288.3" y2="1647.3" stroke="#000" stroke-width="1.8"/>
<text x="288.3" y="1682.1" font-size="35.5" text-anchor="middle" textLength="78" lengthAdjust="spacingAndGlyphs" font-family='"Liberation Sans", sans-serif'>75°E</text>
<line x1="475.5" y1="1638.3" x2="475.5" y2="1647.3" stroke="#000" stroke-width="1.8"/>
<text x="475.5" y="1682.1" font-size="35.5" text-anchor="middle" textLength="78" lengthAdjust="spacingAndGlyphs" font-family='"Liberation Sans", sans-serif'>90°E</text>
<line x1="101.1" y1="1638.3" x2="101.1" y2="1647.3" stroke="#000" stroke-width="1.8"/>
<text x="101.1" y="1682.1" font-size="35.5" text-anchor="middle" textLength="78" lengthAdjust="spacingAndGlyphs" font-family='"Liberation Sans", sans-serif'>60°E</text>
<line x1="837.6" y1="1453.4" x2="1346.7" y2="1453.4" stroke="#000" stroke-width="1.9" stroke-dasharray="1.9 2.86" fill="none"/>
<line x1="837.6" y1="1262.7" x2="1346.7" y2="1262.7" stroke="#000" stroke-width="1.9" stroke-dasharray="1.9 2.86" fill="none"/>
<line x1="837.6" y1="1072" x2="1346.7" y2="1072" stroke="#000" stroke-width="1.9" stroke-dasharray="1.9 2.86" fill="none"/>
<line x1="1028.2" y1="1015.6" x2="1028.2" y2="1638" stroke="#000" stroke-width="1.9" stroke-dasharray="1.9 2.86" fill="none"/>
<line x1="1218.9" y1="1015.6" x2="1218.9" y2="1638" stroke="#000" stroke-width="1.9" stroke-dasharray="1.9 2.86" fill="none"/>
<rect x="837.6" y="1015.6" width="509.1" height="622.4" fill="none" stroke="#000" stroke-width="1.8"/>
<line x1="828.6" y1="1453.4" x2="837.6" y2="1453.4" stroke="#000" stroke-width="1.8"/>
<text x="817.6" y="1466.8" font-size="35.5" text-anchor="end" textLength="80.5" lengthAdjust="spacingAndGlyphs" font-family='"Liberation Sans", sans-serif'>15°N</text>
<line x1="828.6" y1="1262.7" x2="837.6" y2="1262.7" stroke="#000" stroke-width="1.8"/>
<text x="817.6" y="1276.1" font-size="35.5" text-anchor="end" textLength="80.5" lengthAdjust="spacingAndGlyphs" font-family='"Liberation Sans", sans-serif'>30°N</text>
<line x1="828.6" y1="1072" x2="837.6" y2="1072" stroke="#000" stroke-width="1.8"/>
<text x="817.6" y="1085.4" font-size="35.5" text-anchor="end" textLength="80.5" lengthAdjust="spacingAndGlyphs" font-family='"Liberation Sans", sans-serif'>45°N</text>
<line x1="1028.2" y1="1638" x2="1028.2" y2="1647" stroke="#000" stroke-width="1.8"/>
<text x="1028.2" y="1681.8" font-size="35.5" text-anchor="middle" textLength="78" lengthAdjust="spacingAndGlyphs" font-family='"Liberation Sans", sans-serif'>75°E</text>
<line x1="1218.9" y1="1638" x2="1218.9" y2="1647" stroke="#000" stroke-width="1.8"/>
<text x="1218.9" y="1681.8" font-size="35.5" text-anchor="middle" textLength="78" lengthAdjust="spacingAndGlyphs" font-family='"Liberation Sans", sans-serif'>90°E</text>
<line x1="837.6" y1="1638" x2="837.6" y2="1647" stroke="#000" stroke-width="1.8"/>
<text x="837.6" y="1681.8" font-size="35.5" text-anchor="middle" textLength="78" lengthAdjust="spacingAndGlyphs" font-family='"Liberation Sans", sans-serif'>60°E</text>
<text x="350" y="31" font-size="38.8" text-anchor="middle" textLength="418.4" lengthAdjust="spacingAndGlyphs" font-family='"Liberation Sans", sans-serif'>(a) Population density</text>
<text x="1092.4" y="30.6" font-size="38.8" text-anchor="middle" textLength="288" lengthAdjust="spacingAndGlyphs" font-family='"Liberation Sans", sans-serif'>(b) Topography</text>
<text x="350" y="1000.6" font-size="38.8" text-anchor="middle" textLength="228.6" lengthAdjust="spacingAndGlyphs" font-family='"Liberation Sans", sans-serif'>(c) ERA5 RH</text>
<text x="1091.4" y="1000.2" font-size="38.8" text-anchor="middle" textLength="324.2" lengthAdjust="spacingAndGlyphs" font-family='"Liberation Sans", sans-serif'>(d) CESM2-LE RH</text>
<rect x="101.7" y="733" width="79.4" height="30.8" fill="#c8ee3a"/>
<rect x="180.5" y="733" width="79.4" height="30.8" fill="#72dc6a"/>
<rect x="259.3" y="733" width="79.4" height="30.8" fill="#52b38f"/>
<rect x="338.2" y="733" width="79.4" height="30.8" fill="#45878f"/>
<rect x="417" y="733" width="79.4" height="30.8" fill="#405a90"/>
<rect x="495.8" y="733" width="79.4" height="30.8" fill="#4a1f72"/>
<path d="M574.1 733 L598.5 748.4 L574.1 763.8 Z" fill="#3f0c54"/>
<path d="M101.7 733 L574.6 733 L598.5 748.4 L574.6 763.8 L101.7 763.8 Z" fill="none" stroke="#000" stroke-width="1.5" stroke-linejoin="miter"/>
<rect x="842.3" y="733" width="48.1" height="30.8" fill="#160a7f"/>
<rect x="889.8" y="733" width="48.1" height="30.8" fill="#2b4a7c"/>
<rect x="937.3" y="733" width="48.1" height="30.8" fill="#3d7b7c"/>
<rect x="984.8" y="733" width="48.1" height="30.8" fill="#4a9470"/>
<rect x="1032.3" y="733" width="48.1" height="30.8" fill="#55a752"/>
<rect x="1079.8" y="733" width="48.1" height="30.8" fill="#7bb05a"/>
<rect x="1127.3" y="733" width="48.1" height="30.8" fill="#a4b85f"/>
<rect x="1174.8" y="733" width="48.1" height="30.8" fill="#b9ad6a"/>
<rect x="1222.3" y="733" width="48.1" height="30.8" fill="#cdab8d"/>
<rect x="1269.8" y="733" width="48.1" height="30.8" fill="#ecd9d6"/>
<path d="M1316.8 733 L1341.6 748.4 L1316.8 763.8 Z" fill="#fdfbfb"/>
<path d="M842.3 733 L1317.3 733 L1341.6 748.4 L1317.3 763.8 L842.3 763.8 Z" fill="none" stroke="#000" stroke-width="1.5" stroke-linejoin="miter"/>
<rect x="123.5" y="1702.3" width="57.2" height="30.5" fill="#7a4a1c"/>
<rect x="180.1" y="1702.3" width="57.2" height="30.5" fill="#b87c35"/>
<rect x="236.8" y="1702.3" width="57.2" height="30.5" fill="#dbc789"/>
<rect x="293.4" y="1702.3" width="57.2" height="30.5" fill="#f1eed8"/>
<rect x="350" y="1702.3" width="57.2" height="30.5" fill="#d9f0eb"/>
<rect x="406.6" y="1702.3" width="57.2" height="30.5" fill="#93dccb"/>
<rect x="463.2" y="1702.3" width="57.2" height="30.5" fill="#4c9b8c"/>
<rect x="519.9" y="1702.3" width="57.2" height="30.5" fill="#265e4e"/>
<path d="M124 1702.3 L99.6 1717.5 L124 1732.8 Z" fill="#5e3a17"/>
<path d="M576 1702.3 L600.4 1717.5 L576 1732.8 Z" fill="#1f4a3a"/>
<path d="M123.5 1702.3 L576.5 1702.3 L600.4 1717.5 L576.5 1732.8 L123.5 1732.8 L99.6 1717.5 Z" fill="none" stroke="#000" stroke-width="1.5" stroke-linejoin="miter"/>
<rect x="860" y="1702.3" width="58.5" height="30.5" fill="#7a4a1c"/>
<rect x="917.9" y="1702.3" width="58.5" height="30.5" fill="#b87c35"/>
<rect x="975.8" y="1702.3" width="58.5" height="30.5" fill="#dbc789"/>
<rect x="1033.7" y="1702.3" width="58.5" height="30.5" fill="#f1eed8"/>
<rect x="1091.5" y="1702.3" width="58.5" height="30.5" fill="#d9f0eb"/>
<rect x="1149.4" y="1702.3" width="58.5" height="30.5" fill="#93dccb"/>
<rect x="1207.3" y="1702.3" width="58.5" height="30.5" fill="#4c9b8c"/>
<rect x="1265.2" y="1702.3" width="58.5" height="30.5" fill="#265e4e"/>
<path d="M860.5 1702.3 L836.5 1717.5 L860.5 1732.8 Z" fill="#5e3a17"/>
<path d="M1322.6 1702.3 L1346.2 1717.5 L1322.6 1732.8 Z" fill="#1f4a3a"/>
<path d="M860 1702.3 L1323.1 1702.3 L1346.2 1717.5 L1323.1 1732.8 L860 1732.8 L836.5 1717.5 Z" fill="none" stroke="#000" stroke-width="1.5" stroke-linejoin="miter"/>
<line x1="101.7" y1="763.8" x2="101.7" y2="773.3" stroke="#000" stroke-width="1.6"/>
<text x="101.7" y="801.6" font-size="26" text-anchor="middle" textLength="47" lengthAdjust="spacingAndGlyphs" font-family='"Liberation Sans", sans-serif'>100</text>
<line x1="180.5" y1="763.8" x2="180.5" y2="773.3" stroke="#000" stroke-width="1.6"/>
<text x="180.5" y="801.6" font-size="26" text-anchor="middle" textLength="47" lengthAdjust="spacingAndGlyphs" font-family='"Liberation Sans", sans-serif'>300</text>
<line x1="259.3" y1="763.8" x2="259.3" y2="773.3" stroke="#000" stroke-width="1.6"/>
<text x="259.3" y="801.6" font-size="26" text-anchor="middle" textLength="47" lengthAdjust="spacingAndGlyphs" font-family='"Liberation Sans", sans-serif'>500</text>
<line x1="338.2" y1="763.8" x2="338.2" y2="773.3" stroke="#000" stroke-width="1.6"/>
<text x="338.2" y="801.6" font-size="26" text-anchor="middle" textLength="47" lengthAdjust="spacingAndGlyphs" font-family='"Liberation Sans", sans-serif'>700</text>
<line x1="417" y1="763.8" x2="417" y2="773.3" stroke="#000" stroke-width="1.6"/>
<text x="417" y="801.6" font-size="26" text-anchor="middle" textLength="47" lengthAdjust="spacingAndGlyphs" font-family='"Liberation Sans", sans-serif'>900</text>
<line x1="495.8" y1="763.8" x2="495.8" y2="773.3" stroke="#000" stroke-width="1.6"/>
<text x="495.8" y="801.6" font-size="26" text-anchor="middle" textLength="62" lengthAdjust="spacingAndGlyphs" font-family='"Liberation Sans", sans-serif'>1100</text>
<line x1="574.6" y1="763.8" x2="574.6" y2="773.3" stroke="#000" stroke-width="1.6"/>
<text x="574.6" y="801.6" font-size="26" text-anchor="middle" textLength="62" lengthAdjust="spacingAndGlyphs" font-family='"Liberation Sans", sans-serif'>1300</text>
<line x1="842.3" y1="763.8" x2="842.3" y2="773.3" stroke="#000" stroke-width="1.6"/>
<text x="842.3" y="801.6" font-size="26" text-anchor="middle" textLength="16" lengthAdjust="spacingAndGlyphs" font-family='"Liberation Sans", sans-serif'>0</text>
<line x1="937.3" y1="763.8" x2="937.3" y2="773.3" stroke="#000" stroke-width="1.6"/>
<text x="937.3" y="801.6" font-size="26" text-anchor="middle" textLength="47" lengthAdjust="spacingAndGlyphs" font-family='"Liberation Sans", sans-serif'>400</text>
<line x1="1032.3" y1="763.8" x2="1032.3" y2="773.3" stroke="#000" stroke-width="1.6"/>
<text x="1032.3" y="801.6" font-size="26" text-anchor="middle" textLength="47" lengthAdjust="spacingAndGlyphs" font-family='"Liberation Sans", sans-serif'>800</text>
<line x1="1127.3" y1="763.8" x2="1127.3" y2="773.3" stroke="#000" stroke-width="1.6"/>
<text x="1127.3" y="801.6" font-size="26" text-anchor="middle" textLength="62" lengthAdjust="spacingAndGlyphs" font-family='"Liberation Sans", sans-serif'>1200</text>
<line x1="1222.3" y1="763.8" x2="1222.3" y2="773.3" stroke="#000" stroke-width="1.6"/>
<text x="1222.3" y="801.6" font-size="26" text-anchor="middle" textLength="62" lengthAdjust="spacingAndGlyphs" font-family='"Liberation Sans", sans-serif'>1600</text>
<line x1="1317.3" y1="763.8" x2="1317.3" y2="773.3" stroke="#000" stroke-width="1.6"/>
<text x="1317.3" y="801.6" font-size="26" text-anchor="middle" textLength="62" lengthAdjust="spacingAndGlyphs" font-family='"Liberation Sans", sans-serif'>2000</text>
<line x1="180.5" y1="1732.8" x2="180.5" y2="1742.3" stroke="#000" stroke-width="1.6"/>
<text x="180.5" y="1770.6" font-size="26" text-anchor="middle" textLength="59" lengthAdjust="spacingAndGlyphs" font-family='"Liberation Sans", sans-serif'>−1.5</text>
<line x1="293.6" y1="1732.8" x2="293.6" y2="1742.3" stroke="#000" stroke-width="1.6"/>
<text x="293.6" y="1770.6" font-size="26" text-anchor="middle" textLength="59" lengthAdjust="spacingAndGlyphs" font-family='"Liberation Sans", sans-serif'>−0.5</text>
<line x1="406.6" y1="1732.8" x2="406.6" y2="1742.3" stroke="#000" stroke-width="1.6"/>
<text x="406.6" y="1770.6" font-size="26" text-anchor="middle" textLength="38.5" lengthAdjust="spacingAndGlyphs" font-family='"Liberation Sans", sans-serif'>0.5</text>
<line x1="519.6" y1="1732.8" x2="519.6" y2="1742.3" stroke="#000" stroke-width="1.6"/>
<text x="519.6" y="1770.6" font-size="26" text-anchor="middle" textLength="38.5" lengthAdjust="spacingAndGlyphs" font-family='"Liberation Sans", sans-serif'>1.5</text>
<line x1="918.6" y1="1732.8" x2="918.6" y2="1742.3" stroke="#000" stroke-width="1.6"/>
<text x="918.6" y="1770.6" font-size="26" text-anchor="middle" textLength="59" lengthAdjust="spacingAndGlyphs" font-family='"Liberation Sans", sans-serif'>−1.5</text>
<line x1="1034.2" y1="1732.8" x2="1034.2" y2="1742.3" stroke="#000" stroke-width="1.6"/>
<text x="1034.2" y="1770.6" font-size="26" text-anchor="middle" textLength="59" lengthAdjust="spacingAndGlyphs" font-family='"Liberation Sans", sans-serif'>−0.5</text>
<line x1="1149.8" y1="1732.8" x2="1149.8" y2="1742.3" stroke="#000" stroke-width="1.6"/>
<text x="1149.8" y="1770.6" font-size="26" text-anchor="middle" textLength="38.5" lengthAdjust="spacingAndGlyphs" font-family='"Liberation Sans", sans-serif'>0.5</text>
<line x1="1265.3" y1="1732.8" x2="1265.3" y2="1742.3" stroke="#000" stroke-width="1.6"/>
<text x="1265.3" y="1770.6" font-size="26" text-anchor="middle" textLength="38.5" lengthAdjust="spacingAndGlyphs" font-family='"Liberation Sans", sans-serif'>1.5</text>
<text x="338.1" y="840.2" font-size="29" text-anchor="middle" textLength="226.3" lengthAdjust="spacingAndGlyphs" font-family='"Liberation Sans", sans-serif'>person/km^2</text>
<text x="1079.8" y="841.3" font-size="29" text-anchor="middle" textLength="224.4" lengthAdjust="spacingAndGlyphs" font-family='"Liberation Sans", sans-serif'>Elevation (m)</text>
<text x="349.9" y="1809" font-size="29" text-anchor="middle" textLength="165.9" lengthAdjust="spacingAndGlyphs" font-family='"Liberation Sans", sans-serif'>%/decade</text>
<text x="1092" y="1809" font-size="29" text-anchor="middle" textLength="166" lengthAdjust="spacingAndGlyphs" font-family='"Liberation Sans", sans-serif'>%/decade</text>
</svg></body></html>
